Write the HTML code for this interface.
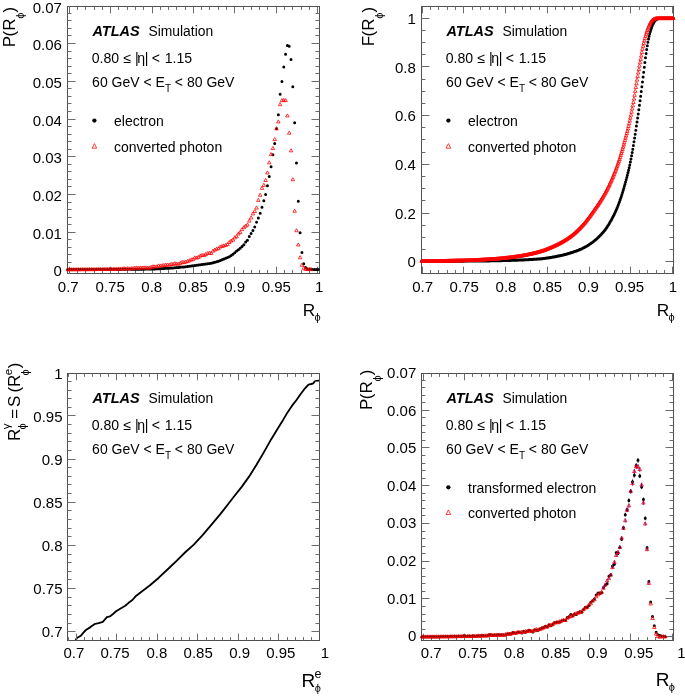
<!DOCTYPE html>
<html lang="en"><head><meta charset="utf-8"><title>ATLAS Simulation</title>
<style>html,body{margin:0;padding:0;background:#fff}svg{display:block;will-change:transform}text{white-space:pre}</style></head>
<body>
<svg width="685" height="696" viewBox="0 0 685 696" font-family='"Liberation Sans", sans-serif' fill="#000">
<rect width="685" height="696" fill="#fff"/>
<g id="p1">
<rect x="67.5" y="6.5" width="252" height="267" fill="none" stroke="#505050" stroke-width="1.0"/>
<path d="M69.5 273.5v-6.8M69.5 6.5v6.8M77.5 273.5v-3.4M77.5 6.5v3.4M85.5 273.5v-3.4M85.5 6.5v3.4M94.5 273.5v-3.4M94.5 6.5v3.4M102.5 273.5v-3.4M102.5 6.5v3.4M110.5 273.5v-6.8M110.5 6.5v6.8M118.5 273.5v-3.4M118.5 6.5v3.4M127.5 273.5v-3.4M127.5 6.5v3.4M135.5 273.5v-3.4M135.5 6.5v3.4M143.5 273.5v-3.4M143.5 6.5v3.4M152.5 273.5v-6.8M152.5 6.5v6.8M160.5 273.5v-3.4M160.5 6.5v3.4M168.5 273.5v-3.4M168.5 6.5v3.4M176.5 273.5v-3.4M176.5 6.5v3.4M185.5 273.5v-3.4M185.5 6.5v3.4M193.5 273.5v-6.8M193.5 6.5v6.8M201.5 273.5v-3.4M201.5 6.5v3.4M209.5 273.5v-3.4M209.5 6.5v3.4M218.5 273.5v-3.4M218.5 6.5v3.4M226.5 273.5v-3.4M226.5 6.5v3.4M234.5 273.5v-6.8M234.5 6.5v6.8M243.5 273.5v-3.4M243.5 6.5v3.4M251.5 273.5v-3.4M251.5 6.5v3.4M259.5 273.5v-3.4M259.5 6.5v3.4M267.5 273.5v-3.4M267.5 6.5v3.4M276.5 273.5v-6.8M276.5 6.5v6.8M284.5 273.5v-3.4M284.5 6.5v3.4M292.5 273.5v-3.4M292.5 6.5v3.4M301.5 273.5v-3.4M301.5 6.5v3.4M309.5 273.5v-3.4M309.5 6.5v3.4M317.5 273.5v-6.8M317.5 6.5v6.8" stroke="#6c6c6c" stroke-width="1.0" fill="none"/>
<path d="M67.5 13.5h4M319.5 13.5h-4M67.5 20.5h4M319.5 20.5h-4M67.5 28.5h4M319.5 28.5h-4M67.5 35.5h4M319.5 35.5h-4M67.5 43.5h8M319.5 43.5h-8M67.5 51.5h4M319.5 51.5h-4M67.5 58.5h4M319.5 58.5h-4M67.5 66.5h4M319.5 66.5h-4M67.5 73.5h4M319.5 73.5h-4M67.5 81.5h8M319.5 81.5h-8M67.5 88.5h4M319.5 88.5h-4M67.5 96.5h4M319.5 96.5h-4M67.5 103.5h4M319.5 103.5h-4M67.5 111.5h4M319.5 111.5h-4M67.5 119.5h8M319.5 119.5h-8M67.5 126.5h4M319.5 126.5h-4M67.5 134.5h4M319.5 134.5h-4M67.5 141.5h4M319.5 141.5h-4M67.5 149.5h4M319.5 149.5h-4M67.5 156.5h8M319.5 156.5h-8M67.5 164.5h4M319.5 164.5h-4M67.5 171.5h4M319.5 171.5h-4M67.5 179.5h4M319.5 179.5h-4M67.5 186.5h4M319.5 186.5h-4M67.5 194.5h8M319.5 194.5h-8M67.5 202.5h4M319.5 202.5h-4M67.5 209.5h4M319.5 209.5h-4M67.5 217.5h4M319.5 217.5h-4M67.5 224.5h4M319.5 224.5h-4M67.5 232.5h8M319.5 232.5h-8M67.5 239.5h4M319.5 239.5h-4M67.5 247.5h4M319.5 247.5h-4M67.5 254.5h4M319.5 254.5h-4M67.5 262.5h4M319.5 262.5h-4M67.5 270.5h8M319.5 270.5h-8" stroke="#6c6c6c" stroke-width="1.0" fill="none"/>
<path d="M66.28 269.5a1.5 1.5 0 1 0 3 0a1.5 1.5 0 1 0 -3 0M68.1 269.5a1.5 1.5 0 1 0 3 0a1.5 1.5 0 1 0 -3 0M69.91 269.5a1.5 1.5 0 1 0 3 0a1.5 1.5 0 1 0 -3 0M71.73 269.5a1.5 1.5 0 1 0 3 0a1.5 1.5 0 1 0 -3 0M73.54 269.5a1.5 1.5 0 1 0 3 0a1.5 1.5 0 1 0 -3 0M75.36 269.49a1.5 1.5 0 1 0 3 0a1.5 1.5 0 1 0 -3 0M77.17 269.49a1.5 1.5 0 1 0 3 0a1.5 1.5 0 1 0 -3 0M78.99 269.49a1.5 1.5 0 1 0 3 0a1.5 1.5 0 1 0 -3 0M80.8 269.48a1.5 1.5 0 1 0 3 0a1.5 1.5 0 1 0 -3 0M82.62 269.48a1.5 1.5 0 1 0 3 0a1.5 1.5 0 1 0 -3 0M84.43 269.47a1.5 1.5 0 1 0 3 0a1.5 1.5 0 1 0 -3 0M86.25 269.47a1.5 1.5 0 1 0 3 0a1.5 1.5 0 1 0 -3 0M88.06 269.46a1.5 1.5 0 1 0 3 0a1.5 1.5 0 1 0 -3 0M89.88 269.46a1.5 1.5 0 1 0 3 0a1.5 1.5 0 1 0 -3 0M91.69 269.45a1.5 1.5 0 1 0 3 0a1.5 1.5 0 1 0 -3 0M93.51 269.44a1.5 1.5 0 1 0 3 0a1.5 1.5 0 1 0 -3 0M95.32 269.44a1.5 1.5 0 1 0 3 0a1.5 1.5 0 1 0 -3 0M97.14 269.43a1.5 1.5 0 1 0 3 0a1.5 1.5 0 1 0 -3 0M98.95 269.42a1.5 1.5 0 1 0 3 0a1.5 1.5 0 1 0 -3 0M100.77 269.42a1.5 1.5 0 1 0 3 0a1.5 1.5 0 1 0 -3 0M102.58 269.41a1.5 1.5 0 1 0 3 0a1.5 1.5 0 1 0 -3 0M104.4 269.4a1.5 1.5 0 1 0 3 0a1.5 1.5 0 1 0 -3 0M106.21 269.39a1.5 1.5 0 1 0 3 0a1.5 1.5 0 1 0 -3 0M108.03 269.39a1.5 1.5 0 1 0 3 0a1.5 1.5 0 1 0 -3 0M109.84 269.38a1.5 1.5 0 1 0 3 0a1.5 1.5 0 1 0 -3 0M111.66 269.37a1.5 1.5 0 1 0 3 0a1.5 1.5 0 1 0 -3 0M113.47 269.36a1.5 1.5 0 1 0 3 0a1.5 1.5 0 1 0 -3 0M115.29 269.35a1.5 1.5 0 1 0 3 0a1.5 1.5 0 1 0 -3 0M117.1 269.35a1.5 1.5 0 1 0 3 0a1.5 1.5 0 1 0 -3 0M118.92 269.34a1.5 1.5 0 1 0 3 0a1.5 1.5 0 1 0 -3 0M120.73 269.33a1.5 1.5 0 1 0 3 0a1.5 1.5 0 1 0 -3 0M122.55 269.31a1.5 1.5 0 1 0 3 0a1.5 1.5 0 1 0 -3 0M124.36 269.3a1.5 1.5 0 1 0 3 0a1.5 1.5 0 1 0 -3 0M126.18 269.29a1.5 1.5 0 1 0 3 0a1.5 1.5 0 1 0 -3 0M127.99 269.28a1.5 1.5 0 1 0 3 0a1.5 1.5 0 1 0 -3 0M129.81 269.26a1.5 1.5 0 1 0 3 0a1.5 1.5 0 1 0 -3 0M131.62 269.25a1.5 1.5 0 1 0 3 0a1.5 1.5 0 1 0 -3 0M133.44 269.23a1.5 1.5 0 1 0 3 0a1.5 1.5 0 1 0 -3 0M135.25 269.21a1.5 1.5 0 1 0 3 0a1.5 1.5 0 1 0 -3 0M137.07 269.19a1.5 1.5 0 1 0 3 0a1.5 1.5 0 1 0 -3 0M138.88 269.17a1.5 1.5 0 1 0 3 0a1.5 1.5 0 1 0 -3 0M140.7 269.15a1.5 1.5 0 1 0 3 0a1.5 1.5 0 1 0 -3 0M142.51 269.13a1.5 1.5 0 1 0 3 0a1.5 1.5 0 1 0 -3 0M144.33 269.1a1.5 1.5 0 1 0 3 0a1.5 1.5 0 1 0 -3 0M146.14 269.08a1.5 1.5 0 1 0 3 0a1.5 1.5 0 1 0 -3 0M147.96 269.05a1.5 1.5 0 1 0 3 0a1.5 1.5 0 1 0 -3 0M149.77 269.01a1.5 1.5 0 1 0 3 0a1.5 1.5 0 1 0 -3 0M151.59 268.96a1.5 1.5 0 1 0 3 0a1.5 1.5 0 1 0 -3 0M153.4 268.9a1.5 1.5 0 1 0 3 0a1.5 1.5 0 1 0 -3 0M155.22 268.83a1.5 1.5 0 1 0 3 0a1.5 1.5 0 1 0 -3 0M157.03 268.75a1.5 1.5 0 1 0 3 0a1.5 1.5 0 1 0 -3 0M158.85 268.66a1.5 1.5 0 1 0 3 0a1.5 1.5 0 1 0 -3 0M160.66 268.57a1.5 1.5 0 1 0 3 0a1.5 1.5 0 1 0 -3 0M162.48 268.47a1.5 1.5 0 1 0 3 0a1.5 1.5 0 1 0 -3 0M164.29 268.37a1.5 1.5 0 1 0 3 0a1.5 1.5 0 1 0 -3 0M166.11 268.27a1.5 1.5 0 1 0 3 0a1.5 1.5 0 1 0 -3 0M167.92 268.15a1.5 1.5 0 1 0 3 0a1.5 1.5 0 1 0 -3 0M169.74 268.02a1.5 1.5 0 1 0 3 0a1.5 1.5 0 1 0 -3 0M171.55 267.88a1.5 1.5 0 1 0 3 0a1.5 1.5 0 1 0 -3 0M173.37 267.73a1.5 1.5 0 1 0 3 0a1.5 1.5 0 1 0 -3 0M175.18 267.57a1.5 1.5 0 1 0 3 0a1.5 1.5 0 1 0 -3 0M177 267.41a1.5 1.5 0 1 0 3 0a1.5 1.5 0 1 0 -3 0M178.81 267.24a1.5 1.5 0 1 0 3 0a1.5 1.5 0 1 0 -3 0M180.63 267.06a1.5 1.5 0 1 0 3 0a1.5 1.5 0 1 0 -3 0M182.44 266.88a1.5 1.5 0 1 0 3 0a1.5 1.5 0 1 0 -3 0M184.26 266.67a1.5 1.5 0 1 0 3 0a1.5 1.5 0 1 0 -3 0M186.07 266.46a1.5 1.5 0 1 0 3 0a1.5 1.5 0 1 0 -3 0M187.89 266.23a1.5 1.5 0 1 0 3 0a1.5 1.5 0 1 0 -3 0M189.7 266a1.5 1.5 0 1 0 3 0a1.5 1.5 0 1 0 -3 0M191.52 265.76a1.5 1.5 0 1 0 3 0a1.5 1.5 0 1 0 -3 0M193.33 265.51a1.5 1.5 0 1 0 3 0a1.5 1.5 0 1 0 -3 0M195.15 265.25a1.5 1.5 0 1 0 3 0a1.5 1.5 0 1 0 -3 0M196.96 265a1.5 1.5 0 1 0 3 0a1.5 1.5 0 1 0 -3 0M198.78 264.75a1.5 1.5 0 1 0 3 0a1.5 1.5 0 1 0 -3 0M200.59 264.5a1.5 1.5 0 1 0 3 0a1.5 1.5 0 1 0 -3 0M202.41 264.26a1.5 1.5 0 1 0 3 0a1.5 1.5 0 1 0 -3 0M204.22 264.01a1.5 1.5 0 1 0 3 0a1.5 1.5 0 1 0 -3 0M206.04 263.74a1.5 1.5 0 1 0 3 0a1.5 1.5 0 1 0 -3 0M207.85 263.45a1.5 1.5 0 1 0 3 0a1.5 1.5 0 1 0 -3 0M209.67 263.13a1.5 1.5 0 1 0 3 0a1.5 1.5 0 1 0 -3 0M211.48 262.77a1.5 1.5 0 1 0 3 0a1.5 1.5 0 1 0 -3 0M213.3 262.37a1.5 1.5 0 1 0 3 0a1.5 1.5 0 1 0 -3 0M215.11 261.86a1.5 1.5 0 1 0 3 0a1.5 1.5 0 1 0 -3 0M216.93 261.21a1.5 1.5 0 1 0 3 0a1.5 1.5 0 1 0 -3 0M218.74 260.49a1.5 1.5 0 1 0 3 0a1.5 1.5 0 1 0 -3 0M220.56 259.75a1.5 1.5 0 1 0 3 0a1.5 1.5 0 1 0 -3 0M222.37 259.03a1.5 1.5 0 1 0 3 0a1.5 1.5 0 1 0 -3 0M224.19 258.29a1.5 1.5 0 1 0 3 0a1.5 1.5 0 1 0 -3 0M226 257.51a1.5 1.5 0 1 0 3 0a1.5 1.5 0 1 0 -3 0M227.82 256.63a1.5 1.5 0 1 0 3 0a1.5 1.5 0 1 0 -3 0M229.63 255.62a1.5 1.5 0 1 0 3 0a1.5 1.5 0 1 0 -3 0M231.45 254.31a1.5 1.5 0 1 0 3 0a1.5 1.5 0 1 0 -3 0M233.26 252.73a1.5 1.5 0 1 0 3 0a1.5 1.5 0 1 0 -3 0M235.08 251.12a1.5 1.5 0 1 0 3 0a1.5 1.5 0 1 0 -3 0M236.89 249.65a1.5 1.5 0 1 0 3 0a1.5 1.5 0 1 0 -3 0M238.71 248.2a1.5 1.5 0 1 0 3 0a1.5 1.5 0 1 0 -3 0M240.52 246.62a1.5 1.5 0 1 0 3 0a1.5 1.5 0 1 0 -3 0M242.34 244.74a1.5 1.5 0 1 0 3 0a1.5 1.5 0 1 0 -3 0M244.15 242.12a1.5 1.5 0 1 0 3 0a1.5 1.5 0 1 0 -3 0M245.97 240.24a1.5 1.5 0 1 0 3 0a1.5 1.5 0 1 0 -3 0M247.78 236.49a1.5 1.5 0 1 0 3 0a1.5 1.5 0 1 0 -3 0M249.6 233.49a1.5 1.5 0 1 0 3 0a1.5 1.5 0 1 0 -3 0M251.41 230.49a1.5 1.5 0 1 0 3 0a1.5 1.5 0 1 0 -3 0M253.23 227.11a1.5 1.5 0 1 0 3 0a1.5 1.5 0 1 0 -3 0M255.04 222.24a1.5 1.5 0 1 0 3 0a1.5 1.5 0 1 0 -3 0M256.86 218.11a1.5 1.5 0 1 0 3 0a1.5 1.5 0 1 0 -3 0M258.67 213.24a1.5 1.5 0 1 0 3 0a1.5 1.5 0 1 0 -3 0M260.49 207.23a1.5 1.5 0 1 0 3 0a1.5 1.5 0 1 0 -3 0M262.3 200.86a1.5 1.5 0 1 0 3 0a1.5 1.5 0 1 0 -3 0M264.12 194.48a1.5 1.5 0 1 0 3 0a1.5 1.5 0 1 0 -3 0M265.94 185.85a1.5 1.5 0 1 0 3 0a1.5 1.5 0 1 0 -3 0M267.75 176.48a1.5 1.5 0 1 0 3 0a1.5 1.5 0 1 0 -3 0M269.56 166.72a1.5 1.5 0 1 0 3 0a1.5 1.5 0 1 0 -3 0M271.38 154.72a1.5 1.5 0 1 0 3 0a1.5 1.5 0 1 0 -3 0M273.19 143.47a1.5 1.5 0 1 0 3 0a1.5 1.5 0 1 0 -3 0M275.01 128.84a1.5 1.5 0 1 0 3 0a1.5 1.5 0 1 0 -3 0M276.82 114.77a1.5 1.5 0 1 0 3 0a1.5 1.5 0 1 0 -3 0M278.64 94.33a1.5 1.5 0 1 0 3 0a1.5 1.5 0 1 0 -3 0M280.45 81.57a1.5 1.5 0 1 0 3 0a1.5 1.5 0 1 0 -3 0M282.27 66.95a1.5 1.5 0 1 0 3 0a1.5 1.5 0 1 0 -3 0M284.08 54.19a1.5 1.5 0 1 0 3 0a1.5 1.5 0 1 0 -3 0M285.9 45.57a1.5 1.5 0 1 0 3 0a1.5 1.5 0 1 0 -3 0M287.71 46.32a1.5 1.5 0 1 0 3 0a1.5 1.5 0 1 0 -3 0M289.53 59.44a1.5 1.5 0 1 0 3 0a1.5 1.5 0 1 0 -3 0M291.34 86.83a1.5 1.5 0 1 0 3 0a1.5 1.5 0 1 0 -3 0M293.16 122.84a1.5 1.5 0 1 0 3 0a1.5 1.5 0 1 0 -3 0M294.97 162.97a1.5 1.5 0 1 0 3 0a1.5 1.5 0 1 0 -3 0M296.79 201.23a1.5 1.5 0 1 0 3 0a1.5 1.5 0 1 0 -3 0M298.6 232.74a1.5 1.5 0 1 0 3 0a1.5 1.5 0 1 0 -3 0M300.42 252.62a1.5 1.5 0 1 0 3 0a1.5 1.5 0 1 0 -3 0M302.23 263.87a1.5 1.5 0 1 0 3 0a1.5 1.5 0 1 0 -3 0M304.05 267.62a1.5 1.5 0 1 0 3 0a1.5 1.5 0 1 0 -3 0M305.86 269.12a1.5 1.5 0 1 0 3 0a1.5 1.5 0 1 0 -3 0M307.68 269.24a1.5 1.5 0 1 0 3 0a1.5 1.5 0 1 0 -3 0M309.5 269.34a1.5 1.5 0 1 0 3 0a1.5 1.5 0 1 0 -3 0M311.31 269.4a1.5 1.5 0 1 0 3 0a1.5 1.5 0 1 0 -3 0M313.12 269.45a1.5 1.5 0 1 0 3 0a1.5 1.5 0 1 0 -3 0M314.94 269.48a1.5 1.5 0 1 0 3 0a1.5 1.5 0 1 0 -3 0M316.75 269.5a1.5 1.5 0 1 0 3 0a1.5 1.5 0 1 0 -3 0" fill="#000"/>
<path d="M66.03 270.75L67.78 267.65L69.53 270.75ZM67.85 270.75L69.6 267.65L71.35 270.75ZM69.66 270.75L71.41 267.65L73.16 270.75ZM71.48 270.74L73.23 267.64L74.98 270.74ZM73.29 270.75L75.04 267.65L76.79 270.75ZM75.11 270.73L76.86 267.63L78.61 270.73ZM76.92 270.72L78.67 267.62L80.42 270.72ZM78.74 270.76L80.49 267.66L82.24 270.76ZM80.55 270.67L82.3 267.57L84.05 270.67ZM82.37 270.66L84.12 267.56L85.87 270.66ZM84.18 270.69L85.93 267.59L87.68 270.69ZM86 270.66L87.75 267.56L89.5 270.66ZM87.81 270.61L89.56 267.51L91.31 270.61ZM89.63 270.63L91.38 267.53L93.13 270.63ZM91.44 270.61L93.19 267.51L94.94 270.61ZM93.26 270.66L95.01 267.56L96.76 270.66ZM95.07 270.52L96.82 267.42L98.57 270.52ZM96.89 270.52L98.64 267.42L100.39 270.52ZM98.7 270.49L100.45 267.39L102.2 270.49ZM100.52 270.59L102.27 267.49L104.02 270.59ZM102.33 270.34L104.08 267.24L105.83 270.34ZM104.15 270.42L105.9 267.32L107.65 270.42ZM105.96 270.43L107.71 267.33L109.46 270.43ZM107.78 270.21L109.53 267.11L111.28 270.21ZM109.59 270.34L111.34 267.24L113.09 270.34ZM111.41 270.43L113.16 267.33L114.91 270.43ZM113.22 270.28L114.97 267.18L116.72 270.28ZM115.04 270.41L116.79 267.31L118.54 270.41ZM116.85 269.99L118.6 266.89L120.35 269.99ZM118.67 270.08L120.42 266.98L122.17 270.08ZM120.48 270.04L122.23 266.94L123.98 270.04ZM122.3 269.73L124.05 266.63L125.8 269.73ZM124.11 270L125.86 266.9L127.61 270ZM125.93 269.63L127.68 266.53L129.43 269.63ZM127.74 269.92L129.49 266.82L131.24 269.92ZM129.56 269.65L131.31 266.55L133.06 269.65ZM131.37 269.66L133.12 266.56L134.87 269.66ZM133.19 269.18L134.94 266.08L136.69 269.18ZM135 269.05L136.75 265.95L138.5 269.05ZM136.82 269.31L138.57 266.21L140.32 269.31ZM138.63 269.03L140.38 265.93L142.13 269.03ZM140.45 269.12L142.2 266.02L143.95 269.12ZM142.26 268.9L144.01 265.8L145.76 268.9ZM144.08 269.03L145.83 265.93L147.58 269.03ZM145.89 269.1L147.64 266L149.39 269.1ZM147.71 269L149.46 265.9L151.21 269ZM149.52 268.41L151.27 265.31L153.02 268.41ZM151.34 267.8L153.09 264.7L154.84 267.8ZM153.15 267.96L154.9 264.86L156.65 267.96ZM154.97 267.86L156.72 264.76L158.47 267.86ZM156.78 266.97L158.53 263.87L160.28 266.97ZM158.6 267.06L160.35 263.96L162.1 267.06ZM160.41 266.79L162.16 263.69L163.91 266.79ZM162.23 266.45L163.98 263.35L165.73 266.45ZM164.04 266.29L165.79 263.19L167.54 266.29ZM165.86 266.1L167.61 263L169.36 266.1ZM167.67 266.22L169.42 263.12L171.17 266.22ZM169.49 265.42L171.24 262.32L172.99 265.42ZM171.3 265.4L173.05 262.3L174.8 265.4ZM173.12 264.78L174.87 261.68L176.62 264.78ZM174.93 265.04L176.68 261.94L178.43 265.04ZM176.75 265.29L178.5 262.19L180.25 265.29ZM178.56 264.39L180.31 261.29L182.06 264.39ZM180.38 263.4L182.13 260.3L183.88 263.4ZM182.19 263.63L183.94 260.53L185.69 263.63ZM184.01 263.15L185.76 260.05L187.51 263.15ZM185.82 262.54L187.57 259.44L189.32 262.54ZM187.64 261.81L189.39 258.71L191.14 261.81ZM189.45 260.89L191.2 257.79L192.95 260.89ZM191.27 260.68L193.02 257.58L194.77 260.68ZM193.08 258.9L194.83 255.8L196.58 258.9ZM194.9 259.12L196.65 256.02L198.4 259.12ZM196.71 258.32L198.46 255.22L200.21 258.32ZM198.53 257.05L200.28 253.95L202.03 257.05ZM200.34 256.36L202.09 253.26L203.84 256.36ZM202.16 256.56L203.91 253.46L205.66 256.56ZM203.97 255.57L205.72 252.47L207.47 255.57ZM205.79 254.61L207.54 251.51L209.29 254.61ZM207.6 254.33L209.35 251.23L211.1 254.33ZM209.42 254.41L211.17 251.31L212.92 254.41ZM211.23 252.17L212.98 249.07L214.73 252.17ZM213.05 251.09L214.8 247.99L216.55 251.09ZM214.86 250.22L216.61 247.12L218.36 250.22ZM216.68 249.71L218.43 246.61L220.18 249.71ZM218.49 248.04L220.24 244.94L221.99 248.04ZM220.31 247.51L222.06 244.41L223.81 247.51ZM222.12 246.99L223.87 243.89L225.62 246.99ZM223.94 246.44L225.69 243.34L227.44 246.44ZM225.75 245.54L227.5 242.44L229.25 245.54ZM227.57 243.56L229.32 240.46L231.07 243.56ZM229.38 242.05L231.13 238.95L232.88 242.05ZM231.2 241.15L232.95 238.05L234.7 241.15ZM233.01 238.87L234.76 235.77L236.51 238.87ZM234.83 237.67L236.58 234.57L238.33 237.67ZM236.64 234.97L238.39 231.87L240.14 234.97ZM238.46 233.54L240.21 230.44L241.96 233.54ZM240.27 230.65L242.02 227.55L243.77 230.65ZM242.09 228.66L243.84 225.56L245.59 228.66ZM243.9 227.16L245.65 224.06L247.4 227.16ZM245.72 226.04L247.47 222.94L249.22 226.04ZM247.53 222.14L249.28 219.04L251.03 222.14ZM249.35 218.95L251.1 215.85L252.85 218.95ZM251.16 214.94L252.91 211.84L254.66 214.94ZM252.98 212.53L254.73 209.43L256.48 212.53ZM254.79 209.05L256.54 205.95L258.29 209.05ZM256.61 201.43L258.36 198.33L260.11 201.43ZM258.42 196.26L260.17 193.16L261.92 196.26ZM260.24 189.35L261.99 186.25L263.74 189.35ZM262.05 186.35L263.8 183.25L265.55 186.35ZM263.87 181.48L265.62 178.38L267.37 181.48ZM265.69 173.97L267.44 170.87L269.19 173.97ZM267.5 163.85L269.25 160.75L271 163.85ZM269.31 155.59L271.06 152.49L272.81 155.59ZM271.13 149.59L272.88 146.49L274.63 149.59ZM272.94 140.59L274.69 137.49L276.44 140.59ZM274.76 129.71L276.51 126.61L278.26 129.71ZM276.57 122.96L278.32 119.86L280.07 122.96ZM278.39 105.71L280.14 102.61L281.89 105.71ZM280.2 101.58L281.95 98.48L283.7 101.58ZM282.02 101.58L283.77 98.48L285.52 101.58ZM283.83 101.58L285.58 98.48L287.33 101.58ZM285.65 116.96L287.4 113.86L289.15 116.96ZM287.46 134.21L289.21 131.11L290.96 134.21ZM289.28 151.84L291.03 148.74L292.78 151.84ZM291.09 180.73L292.84 177.63L294.59 180.73ZM292.91 212.23L294.66 209.13L296.41 212.23ZM294.72 231.74L296.47 228.64L298.22 231.74ZM296.54 245.99L298.29 242.89L300.04 245.99ZM298.35 258.75L300.1 255.65L301.85 258.75ZM300.17 266.25L301.92 263.15L303.67 266.25ZM301.98 269.25L303.73 266.15L305.48 269.25ZM303.8 270.37L305.55 267.27L307.3 270.37ZM305.61 270.48L307.36 267.38L309.11 270.48ZM307.43 270.57L309.18 267.47L310.93 270.57ZM309.25 270.63L311 267.53L312.75 270.63Z" fill="none" stroke="#f00" stroke-width="0.78" stroke-linejoin="miter"/>
<text x="68.3" y="292.3" font-size="15" text-anchor="middle">0.7</text>
<text x="110.2" y="292.3" font-size="15" text-anchor="middle">0.75</text>
<text x="151.8" y="292.3" font-size="15" text-anchor="middle">0.8</text>
<text x="193.2" y="292.3" font-size="15" text-anchor="middle">0.85</text>
<text x="234.6" y="292.3" font-size="15" text-anchor="middle">0.9</text>
<text x="276.3" y="292.3" font-size="15" text-anchor="middle">0.95</text>
<text x="319.2" y="292.3" font-size="15" text-anchor="middle">1</text>
<text x="61.9" y="276.2" font-size="15" text-anchor="end">0</text>
<text x="61.9" y="238.54" font-size="15" text-anchor="end">0.01</text>
<text x="61.9" y="200.88" font-size="15" text-anchor="end">0.02</text>
<text x="61.9" y="163.22" font-size="15" text-anchor="end">0.03</text>
<text x="61.9" y="125.56" font-size="15" text-anchor="end">0.04</text>
<text x="61.9" y="87.9" font-size="15" text-anchor="end">0.05</text>
<text x="61.9" y="50.24" font-size="15" text-anchor="end">0.06</text>
<text x="61.9" y="12.58" font-size="15" text-anchor="end">0.07</text>
<text y="36.4"><tspan x="92.4" font-size="14.5" font-weight="bold" font-style="italic">ATLAS</tspan><tspan x="148.5" font-size="13.85">Simulation</tspan></text>
<text y="63.4" font-size="14.1"><tspan x="91.7">0.80</tspan><tspan x="123.6">≤</tspan><tspan x="135">|</tspan><tspan x="137.35">η</tspan><tspan x="144.8">|</tspan><tspan x="151.8">&lt;</tspan><tspan x="164.7">1.15</tspan></text>
<text x="92.1" y="87.3" font-size="14">60 GeV &lt; E<tspan font-size="10" dy="4.7">T</tspan><tspan dy="-4.7"> &lt; 80 GeV</tspan></text>
<circle cx="94.4" cy="120.6" r="2.15" fill="#000"/>
<text x="114" y="125.9" font-size="14">electron</text>
<path d="M92.1 148.2L94.4 143.6L96.7 148.2Z" fill="none" stroke="#f00" stroke-width="0.75"/>
<text x="114" y="151.5" font-size="14">converted photon</text>
<text x="302.7" y="315.8" font-size="17.3">R<tspan font-size="11" dy="5.3" dx="-0.8">ϕ</tspan></text>
<text transform="translate(15.1 12.4) rotate(-90)" font-size="17">)</text>
<text transform="translate(23.94 18.8) rotate(-90)" font-size="11">ϕ</text>
<text transform="translate(15.1 30.7) rotate(-90)" font-size="17">R</text>
<text transform="translate(15.1 36.4) rotate(-90)" font-size="17">(</text>
<text transform="translate(15.1 47.2) rotate(-90)" font-size="17">P</text>
</g>
<g id="p2">
<rect x="421.5" y="6.5" width="252" height="267" fill="none" stroke="#505050" stroke-width="1.0"/>
<path d="M422.5 273.5v-6.8M422.5 6.5v6.8M430.5 273.5v-3.4M430.5 6.5v3.4M438.5 273.5v-3.4M438.5 6.5v3.4M447.5 273.5v-3.4M447.5 6.5v3.4M455.5 273.5v-3.4M455.5 6.5v3.4M463.5 273.5v-6.8M463.5 6.5v6.8M472.5 273.5v-3.4M472.5 6.5v3.4M480.5 273.5v-3.4M480.5 6.5v3.4M489.5 273.5v-3.4M489.5 6.5v3.4M497.5 273.5v-3.4M497.5 6.5v3.4M505.5 273.5v-6.8M505.5 6.5v6.8M514.5 273.5v-3.4M514.5 6.5v3.4M522.5 273.5v-3.4M522.5 6.5v3.4M530.5 273.5v-3.4M530.5 6.5v3.4M539.5 273.5v-3.4M539.5 6.5v3.4M547.5 273.5v-6.8M547.5 6.5v6.8M555.5 273.5v-3.4M555.5 6.5v3.4M564.5 273.5v-3.4M564.5 6.5v3.4M572.5 273.5v-3.4M572.5 6.5v3.4M580.5 273.5v-3.4M580.5 6.5v3.4M589.5 273.5v-6.8M589.5 6.5v6.8M597.5 273.5v-3.4M597.5 6.5v3.4M605.5 273.5v-3.4M605.5 6.5v3.4M614.5 273.5v-3.4M614.5 6.5v3.4M622.5 273.5v-3.4M622.5 6.5v3.4M630.5 273.5v-6.8M630.5 6.5v6.8M639.5 273.5v-3.4M639.5 6.5v3.4M647.5 273.5v-3.4M647.5 6.5v3.4M656.5 273.5v-3.4M656.5 6.5v3.4M664.5 273.5v-3.4M664.5 6.5v3.4M672.5 273.5v-6.8M672.5 6.5v6.8" stroke="#6c6c6c" stroke-width="1.0" fill="none"/>
<path d="M421.5 18.5h8M673.5 18.5h-8M421.5 30.5h4M673.5 30.5h-4M421.5 42.5h4M673.5 42.5h-4M421.5 54.5h4M673.5 54.5h-4M421.5 66.5h8M673.5 66.5h-8M421.5 79.5h4M673.5 79.5h-4M421.5 91.5h4M673.5 91.5h-4M421.5 103.5h4M673.5 103.5h-4M421.5 115.5h8M673.5 115.5h-8M421.5 127.5h4M673.5 127.5h-4M421.5 139.5h4M673.5 139.5h-4M421.5 152.5h4M673.5 152.5h-4M421.5 164.5h8M673.5 164.5h-8M421.5 176.5h4M673.5 176.5h-4M421.5 188.5h4M673.5 188.5h-4M421.5 200.5h4M673.5 200.5h-4M421.5 213.5h8M673.5 213.5h-8M421.5 225.5h4M673.5 225.5h-4M421.5 237.5h4M673.5 237.5h-4M421.5 249.5h4M673.5 249.5h-4M421.5 261.5h8M673.5 261.5h-8" stroke="#6c6c6c" stroke-width="1.0" fill="none"/>
<path d="M420.15 261.3a1.5 1.5 0 1 0 3 0a1.5 1.5 0 1 0 -3 0M420.75 261.3a1.5 1.5 0 1 0 3 0a1.5 1.5 0 1 0 -3 0M421.36 261.3a1.5 1.5 0 1 0 3 0a1.5 1.5 0 1 0 -3 0M421.96 261.3a1.5 1.5 0 1 0 3 0a1.5 1.5 0 1 0 -3 0M422.57 261.3a1.5 1.5 0 1 0 3 0a1.5 1.5 0 1 0 -3 0M423.17 261.3a1.5 1.5 0 1 0 3 0a1.5 1.5 0 1 0 -3 0M423.78 261.3a1.5 1.5 0 1 0 3 0a1.5 1.5 0 1 0 -3 0M424.38 261.3a1.5 1.5 0 1 0 3 0a1.5 1.5 0 1 0 -3 0M424.99 261.3a1.5 1.5 0 1 0 3 0a1.5 1.5 0 1 0 -3 0M425.59 261.3a1.5 1.5 0 1 0 3 0a1.5 1.5 0 1 0 -3 0M426.2 261.3a1.5 1.5 0 1 0 3 0a1.5 1.5 0 1 0 -3 0M426.8 261.3a1.5 1.5 0 1 0 3 0a1.5 1.5 0 1 0 -3 0M427.41 261.29a1.5 1.5 0 1 0 3 0a1.5 1.5 0 1 0 -3 0M428.01 261.29a1.5 1.5 0 1 0 3 0a1.5 1.5 0 1 0 -3 0M428.62 261.29a1.5 1.5 0 1 0 3 0a1.5 1.5 0 1 0 -3 0M429.22 261.29a1.5 1.5 0 1 0 3 0a1.5 1.5 0 1 0 -3 0M429.83 261.29a1.5 1.5 0 1 0 3 0a1.5 1.5 0 1 0 -3 0M430.44 261.29a1.5 1.5 0 1 0 3 0a1.5 1.5 0 1 0 -3 0M431.04 261.29a1.5 1.5 0 1 0 3 0a1.5 1.5 0 1 0 -3 0M431.64 261.29a1.5 1.5 0 1 0 3 0a1.5 1.5 0 1 0 -3 0M432.25 261.28a1.5 1.5 0 1 0 3 0a1.5 1.5 0 1 0 -3 0M432.85 261.28a1.5 1.5 0 1 0 3 0a1.5 1.5 0 1 0 -3 0M433.46 261.28a1.5 1.5 0 1 0 3 0a1.5 1.5 0 1 0 -3 0M434.06 261.28a1.5 1.5 0 1 0 3 0a1.5 1.5 0 1 0 -3 0M434.67 261.28a1.5 1.5 0 1 0 3 0a1.5 1.5 0 1 0 -3 0M435.27 261.28a1.5 1.5 0 1 0 3 0a1.5 1.5 0 1 0 -3 0M435.88 261.27a1.5 1.5 0 1 0 3 0a1.5 1.5 0 1 0 -3 0M436.48 261.27a1.5 1.5 0 1 0 3 0a1.5 1.5 0 1 0 -3 0M437.09 261.27a1.5 1.5 0 1 0 3 0a1.5 1.5 0 1 0 -3 0M437.69 261.27a1.5 1.5 0 1 0 3 0a1.5 1.5 0 1 0 -3 0M438.3 261.27a1.5 1.5 0 1 0 3 0a1.5 1.5 0 1 0 -3 0M438.9 261.26a1.5 1.5 0 1 0 3 0a1.5 1.5 0 1 0 -3 0M439.51 261.26a1.5 1.5 0 1 0 3 0a1.5 1.5 0 1 0 -3 0M440.11 261.26a1.5 1.5 0 1 0 3 0a1.5 1.5 0 1 0 -3 0M440.72 261.26a1.5 1.5 0 1 0 3 0a1.5 1.5 0 1 0 -3 0M441.32 261.25a1.5 1.5 0 1 0 3 0a1.5 1.5 0 1 0 -3 0M441.93 261.25a1.5 1.5 0 1 0 3 0a1.5 1.5 0 1 0 -3 0M442.53 261.25a1.5 1.5 0 1 0 3 0a1.5 1.5 0 1 0 -3 0M443.14 261.25a1.5 1.5 0 1 0 3 0a1.5 1.5 0 1 0 -3 0M443.75 261.24a1.5 1.5 0 1 0 3 0a1.5 1.5 0 1 0 -3 0M444.35 261.24a1.5 1.5 0 1 0 3 0a1.5 1.5 0 1 0 -3 0M444.95 261.24a1.5 1.5 0 1 0 3 0a1.5 1.5 0 1 0 -3 0M445.56 261.23a1.5 1.5 0 1 0 3 0a1.5 1.5 0 1 0 -3 0M446.16 261.23a1.5 1.5 0 1 0 3 0a1.5 1.5 0 1 0 -3 0M446.77 261.23a1.5 1.5 0 1 0 3 0a1.5 1.5 0 1 0 -3 0M447.38 261.22a1.5 1.5 0 1 0 3 0a1.5 1.5 0 1 0 -3 0M447.98 261.22a1.5 1.5 0 1 0 3 0a1.5 1.5 0 1 0 -3 0M448.58 261.22a1.5 1.5 0 1 0 3 0a1.5 1.5 0 1 0 -3 0M449.19 261.22a1.5 1.5 0 1 0 3 0a1.5 1.5 0 1 0 -3 0M449.79 261.21a1.5 1.5 0 1 0 3 0a1.5 1.5 0 1 0 -3 0M450.4 261.21a1.5 1.5 0 1 0 3 0a1.5 1.5 0 1 0 -3 0M451 261.2a1.5 1.5 0 1 0 3 0a1.5 1.5 0 1 0 -3 0M451.61 261.2a1.5 1.5 0 1 0 3 0a1.5 1.5 0 1 0 -3 0M452.21 261.2a1.5 1.5 0 1 0 3 0a1.5 1.5 0 1 0 -3 0M452.82 261.19a1.5 1.5 0 1 0 3 0a1.5 1.5 0 1 0 -3 0M453.42 261.19a1.5 1.5 0 1 0 3 0a1.5 1.5 0 1 0 -3 0M454.03 261.19a1.5 1.5 0 1 0 3 0a1.5 1.5 0 1 0 -3 0M454.63 261.18a1.5 1.5 0 1 0 3 0a1.5 1.5 0 1 0 -3 0M455.24 261.18a1.5 1.5 0 1 0 3 0a1.5 1.5 0 1 0 -3 0M455.84 261.18a1.5 1.5 0 1 0 3 0a1.5 1.5 0 1 0 -3 0M456.45 261.17a1.5 1.5 0 1 0 3 0a1.5 1.5 0 1 0 -3 0M457.05 261.17a1.5 1.5 0 1 0 3 0a1.5 1.5 0 1 0 -3 0M457.66 261.16a1.5 1.5 0 1 0 3 0a1.5 1.5 0 1 0 -3 0M458.26 261.16a1.5 1.5 0 1 0 3 0a1.5 1.5 0 1 0 -3 0M458.87 261.15a1.5 1.5 0 1 0 3 0a1.5 1.5 0 1 0 -3 0M459.47 261.15a1.5 1.5 0 1 0 3 0a1.5 1.5 0 1 0 -3 0M460.08 261.15a1.5 1.5 0 1 0 3 0a1.5 1.5 0 1 0 -3 0M460.68 261.14a1.5 1.5 0 1 0 3 0a1.5 1.5 0 1 0 -3 0M461.29 261.14a1.5 1.5 0 1 0 3 0a1.5 1.5 0 1 0 -3 0M461.89 261.13a1.5 1.5 0 1 0 3 0a1.5 1.5 0 1 0 -3 0M462.5 261.13a1.5 1.5 0 1 0 3 0a1.5 1.5 0 1 0 -3 0M463.1 261.12a1.5 1.5 0 1 0 3 0a1.5 1.5 0 1 0 -3 0M463.71 261.12a1.5 1.5 0 1 0 3 0a1.5 1.5 0 1 0 -3 0M464.31 261.12a1.5 1.5 0 1 0 3 0a1.5 1.5 0 1 0 -3 0M464.92 261.11a1.5 1.5 0 1 0 3 0a1.5 1.5 0 1 0 -3 0M465.52 261.11a1.5 1.5 0 1 0 3 0a1.5 1.5 0 1 0 -3 0M466.13 261.1a1.5 1.5 0 1 0 3 0a1.5 1.5 0 1 0 -3 0M466.73 261.1a1.5 1.5 0 1 0 3 0a1.5 1.5 0 1 0 -3 0M467.34 261.09a1.5 1.5 0 1 0 3 0a1.5 1.5 0 1 0 -3 0M467.94 261.09a1.5 1.5 0 1 0 3 0a1.5 1.5 0 1 0 -3 0M468.55 261.08a1.5 1.5 0 1 0 3 0a1.5 1.5 0 1 0 -3 0M469.15 261.08a1.5 1.5 0 1 0 3 0a1.5 1.5 0 1 0 -3 0M469.76 261.07a1.5 1.5 0 1 0 3 0a1.5 1.5 0 1 0 -3 0M470.36 261.07a1.5 1.5 0 1 0 3 0a1.5 1.5 0 1 0 -3 0M470.97 261.06a1.5 1.5 0 1 0 3 0a1.5 1.5 0 1 0 -3 0M471.57 261.06a1.5 1.5 0 1 0 3 0a1.5 1.5 0 1 0 -3 0M472.18 261.05a1.5 1.5 0 1 0 3 0a1.5 1.5 0 1 0 -3 0M472.78 261.05a1.5 1.5 0 1 0 3 0a1.5 1.5 0 1 0 -3 0M473.39 261.04a1.5 1.5 0 1 0 3 0a1.5 1.5 0 1 0 -3 0M474 261.04a1.5 1.5 0 1 0 3 0a1.5 1.5 0 1 0 -3 0M474.6 261.03a1.5 1.5 0 1 0 3 0a1.5 1.5 0 1 0 -3 0M475.2 261.03a1.5 1.5 0 1 0 3 0a1.5 1.5 0 1 0 -3 0M475.81 261.02a1.5 1.5 0 1 0 3 0a1.5 1.5 0 1 0 -3 0M476.41 261.02a1.5 1.5 0 1 0 3 0a1.5 1.5 0 1 0 -3 0M477.02 261.01a1.5 1.5 0 1 0 3 0a1.5 1.5 0 1 0 -3 0M477.62 261.01a1.5 1.5 0 1 0 3 0a1.5 1.5 0 1 0 -3 0M478.23 261a1.5 1.5 0 1 0 3 0a1.5 1.5 0 1 0 -3 0M478.83 261a1.5 1.5 0 1 0 3 0a1.5 1.5 0 1 0 -3 0M479.44 260.99a1.5 1.5 0 1 0 3 0a1.5 1.5 0 1 0 -3 0M480.04 260.99a1.5 1.5 0 1 0 3 0a1.5 1.5 0 1 0 -3 0M480.65 260.98a1.5 1.5 0 1 0 3 0a1.5 1.5 0 1 0 -3 0M481.25 260.97a1.5 1.5 0 1 0 3 0a1.5 1.5 0 1 0 -3 0M481.86 260.97a1.5 1.5 0 1 0 3 0a1.5 1.5 0 1 0 -3 0M482.46 260.96a1.5 1.5 0 1 0 3 0a1.5 1.5 0 1 0 -3 0M483.07 260.95a1.5 1.5 0 1 0 3 0a1.5 1.5 0 1 0 -3 0M483.67 260.94a1.5 1.5 0 1 0 3 0a1.5 1.5 0 1 0 -3 0M484.28 260.93a1.5 1.5 0 1 0 3 0a1.5 1.5 0 1 0 -3 0M484.88 260.93a1.5 1.5 0 1 0 3 0a1.5 1.5 0 1 0 -3 0M485.49 260.92a1.5 1.5 0 1 0 3 0a1.5 1.5 0 1 0 -3 0M486.09 260.91a1.5 1.5 0 1 0 3 0a1.5 1.5 0 1 0 -3 0M486.7 260.9a1.5 1.5 0 1 0 3 0a1.5 1.5 0 1 0 -3 0M487.3 260.89a1.5 1.5 0 1 0 3 0a1.5 1.5 0 1 0 -3 0M487.91 260.88a1.5 1.5 0 1 0 3 0a1.5 1.5 0 1 0 -3 0M488.51 260.87a1.5 1.5 0 1 0 3 0a1.5 1.5 0 1 0 -3 0M489.12 260.86a1.5 1.5 0 1 0 3 0a1.5 1.5 0 1 0 -3 0M489.72 260.85a1.5 1.5 0 1 0 3 0a1.5 1.5 0 1 0 -3 0M490.33 260.84a1.5 1.5 0 1 0 3 0a1.5 1.5 0 1 0 -3 0M490.93 260.83a1.5 1.5 0 1 0 3 0a1.5 1.5 0 1 0 -3 0M491.54 260.81a1.5 1.5 0 1 0 3 0a1.5 1.5 0 1 0 -3 0M492.14 260.8a1.5 1.5 0 1 0 3 0a1.5 1.5 0 1 0 -3 0M492.75 260.79a1.5 1.5 0 1 0 3 0a1.5 1.5 0 1 0 -3 0M493.35 260.78a1.5 1.5 0 1 0 3 0a1.5 1.5 0 1 0 -3 0M493.96 260.76a1.5 1.5 0 1 0 3 0a1.5 1.5 0 1 0 -3 0M494.56 260.75a1.5 1.5 0 1 0 3 0a1.5 1.5 0 1 0 -3 0M495.17 260.74a1.5 1.5 0 1 0 3 0a1.5 1.5 0 1 0 -3 0M495.77 260.73a1.5 1.5 0 1 0 3 0a1.5 1.5 0 1 0 -3 0M496.38 260.71a1.5 1.5 0 1 0 3 0a1.5 1.5 0 1 0 -3 0M496.98 260.7a1.5 1.5 0 1 0 3 0a1.5 1.5 0 1 0 -3 0M497.59 260.68a1.5 1.5 0 1 0 3 0a1.5 1.5 0 1 0 -3 0M498.19 260.67a1.5 1.5 0 1 0 3 0a1.5 1.5 0 1 0 -3 0M498.8 260.66a1.5 1.5 0 1 0 3 0a1.5 1.5 0 1 0 -3 0M499.4 260.64a1.5 1.5 0 1 0 3 0a1.5 1.5 0 1 0 -3 0M500.01 260.63a1.5 1.5 0 1 0 3 0a1.5 1.5 0 1 0 -3 0M500.62 260.61a1.5 1.5 0 1 0 3 0a1.5 1.5 0 1 0 -3 0M501.22 260.6a1.5 1.5 0 1 0 3 0a1.5 1.5 0 1 0 -3 0M501.82 260.58a1.5 1.5 0 1 0 3 0a1.5 1.5 0 1 0 -3 0M502.43 260.57a1.5 1.5 0 1 0 3 0a1.5 1.5 0 1 0 -3 0M503.03 260.55a1.5 1.5 0 1 0 3 0a1.5 1.5 0 1 0 -3 0M503.64 260.53a1.5 1.5 0 1 0 3 0a1.5 1.5 0 1 0 -3 0M504.25 260.52a1.5 1.5 0 1 0 3 0a1.5 1.5 0 1 0 -3 0M504.85 260.5a1.5 1.5 0 1 0 3 0a1.5 1.5 0 1 0 -3 0M505.45 260.49a1.5 1.5 0 1 0 3 0a1.5 1.5 0 1 0 -3 0M506.06 260.47a1.5 1.5 0 1 0 3 0a1.5 1.5 0 1 0 -3 0M506.66 260.45a1.5 1.5 0 1 0 3 0a1.5 1.5 0 1 0 -3 0M507.27 260.43a1.5 1.5 0 1 0 3 0a1.5 1.5 0 1 0 -3 0M507.88 260.42a1.5 1.5 0 1 0 3 0a1.5 1.5 0 1 0 -3 0M508.48 260.4a1.5 1.5 0 1 0 3 0a1.5 1.5 0 1 0 -3 0M509.08 260.38a1.5 1.5 0 1 0 3 0a1.5 1.5 0 1 0 -3 0M509.69 260.37a1.5 1.5 0 1 0 3 0a1.5 1.5 0 1 0 -3 0M510.29 260.35a1.5 1.5 0 1 0 3 0a1.5 1.5 0 1 0 -3 0M510.9 260.33a1.5 1.5 0 1 0 3 0a1.5 1.5 0 1 0 -3 0M511.5 260.31a1.5 1.5 0 1 0 3 0a1.5 1.5 0 1 0 -3 0M512.11 260.29a1.5 1.5 0 1 0 3 0a1.5 1.5 0 1 0 -3 0M512.71 260.27a1.5 1.5 0 1 0 3 0a1.5 1.5 0 1 0 -3 0M513.32 260.25a1.5 1.5 0 1 0 3 0a1.5 1.5 0 1 0 -3 0M513.92 260.23a1.5 1.5 0 1 0 3 0a1.5 1.5 0 1 0 -3 0M514.53 260.21a1.5 1.5 0 1 0 3 0a1.5 1.5 0 1 0 -3 0M515.13 260.19a1.5 1.5 0 1 0 3 0a1.5 1.5 0 1 0 -3 0M515.74 260.17a1.5 1.5 0 1 0 3 0a1.5 1.5 0 1 0 -3 0M516.35 260.14a1.5 1.5 0 1 0 3 0a1.5 1.5 0 1 0 -3 0M516.95 260.12a1.5 1.5 0 1 0 3 0a1.5 1.5 0 1 0 -3 0M517.55 260.1a1.5 1.5 0 1 0 3 0a1.5 1.5 0 1 0 -3 0M518.16 260.07a1.5 1.5 0 1 0 3 0a1.5 1.5 0 1 0 -3 0M518.76 260.05a1.5 1.5 0 1 0 3 0a1.5 1.5 0 1 0 -3 0M519.37 260.02a1.5 1.5 0 1 0 3 0a1.5 1.5 0 1 0 -3 0M519.98 260a1.5 1.5 0 1 0 3 0a1.5 1.5 0 1 0 -3 0M520.58 259.97a1.5 1.5 0 1 0 3 0a1.5 1.5 0 1 0 -3 0M521.18 259.95a1.5 1.5 0 1 0 3 0a1.5 1.5 0 1 0 -3 0M521.79 259.92a1.5 1.5 0 1 0 3 0a1.5 1.5 0 1 0 -3 0M522.39 259.89a1.5 1.5 0 1 0 3 0a1.5 1.5 0 1 0 -3 0M523 259.86a1.5 1.5 0 1 0 3 0a1.5 1.5 0 1 0 -3 0M523.61 259.83a1.5 1.5 0 1 0 3 0a1.5 1.5 0 1 0 -3 0M524.21 259.8a1.5 1.5 0 1 0 3 0a1.5 1.5 0 1 0 -3 0M524.81 259.77a1.5 1.5 0 1 0 3 0a1.5 1.5 0 1 0 -3 0M525.42 259.74a1.5 1.5 0 1 0 3 0a1.5 1.5 0 1 0 -3 0M526.02 259.71a1.5 1.5 0 1 0 3 0a1.5 1.5 0 1 0 -3 0M526.63 259.68a1.5 1.5 0 1 0 3 0a1.5 1.5 0 1 0 -3 0M527.24 259.65a1.5 1.5 0 1 0 3 0a1.5 1.5 0 1 0 -3 0M527.84 259.61a1.5 1.5 0 1 0 3 0a1.5 1.5 0 1 0 -3 0M528.44 259.58a1.5 1.5 0 1 0 3 0a1.5 1.5 0 1 0 -3 0M529.05 259.54a1.5 1.5 0 1 0 3 0a1.5 1.5 0 1 0 -3 0M529.65 259.51a1.5 1.5 0 1 0 3 0a1.5 1.5 0 1 0 -3 0M530.26 259.47a1.5 1.5 0 1 0 3 0a1.5 1.5 0 1 0 -3 0M530.87 259.44a1.5 1.5 0 1 0 3 0a1.5 1.5 0 1 0 -3 0M531.47 259.4a1.5 1.5 0 1 0 3 0a1.5 1.5 0 1 0 -3 0M532.07 259.36a1.5 1.5 0 1 0 3 0a1.5 1.5 0 1 0 -3 0M532.68 259.32a1.5 1.5 0 1 0 3 0a1.5 1.5 0 1 0 -3 0M533.28 259.28a1.5 1.5 0 1 0 3 0a1.5 1.5 0 1 0 -3 0M533.89 259.24a1.5 1.5 0 1 0 3 0a1.5 1.5 0 1 0 -3 0M534.5 259.2a1.5 1.5 0 1 0 3 0a1.5 1.5 0 1 0 -3 0M535.1 259.15a1.5 1.5 0 1 0 3 0a1.5 1.5 0 1 0 -3 0M535.7 259.11a1.5 1.5 0 1 0 3 0a1.5 1.5 0 1 0 -3 0M536.31 259.07a1.5 1.5 0 1 0 3 0a1.5 1.5 0 1 0 -3 0M536.91 259.02a1.5 1.5 0 1 0 3 0a1.5 1.5 0 1 0 -3 0M537.52 258.98a1.5 1.5 0 1 0 3 0a1.5 1.5 0 1 0 -3 0M538.12 258.93a1.5 1.5 0 1 0 3 0a1.5 1.5 0 1 0 -3 0M538.73 258.88a1.5 1.5 0 1 0 3 0a1.5 1.5 0 1 0 -3 0M539.34 258.83a1.5 1.5 0 1 0 3 0a1.5 1.5 0 1 0 -3 0M539.94 258.78a1.5 1.5 0 1 0 3 0a1.5 1.5 0 1 0 -3 0M540.54 258.72a1.5 1.5 0 1 0 3 0a1.5 1.5 0 1 0 -3 0M541.15 258.65a1.5 1.5 0 1 0 3 0a1.5 1.5 0 1 0 -3 0M541.75 258.59a1.5 1.5 0 1 0 3 0a1.5 1.5 0 1 0 -3 0M542.36 258.52a1.5 1.5 0 1 0 3 0a1.5 1.5 0 1 0 -3 0M542.96 258.44a1.5 1.5 0 1 0 3 0a1.5 1.5 0 1 0 -3 0M543.57 258.37a1.5 1.5 0 1 0 3 0a1.5 1.5 0 1 0 -3 0M544.17 258.29a1.5 1.5 0 1 0 3 0a1.5 1.5 0 1 0 -3 0M544.78 258.21a1.5 1.5 0 1 0 3 0a1.5 1.5 0 1 0 -3 0M545.38 258.12a1.5 1.5 0 1 0 3 0a1.5 1.5 0 1 0 -3 0M545.99 258.03a1.5 1.5 0 1 0 3 0a1.5 1.5 0 1 0 -3 0M546.6 257.94a1.5 1.5 0 1 0 3 0a1.5 1.5 0 1 0 -3 0M547.2 257.84a1.5 1.5 0 1 0 3 0a1.5 1.5 0 1 0 -3 0M547.8 257.75a1.5 1.5 0 1 0 3 0a1.5 1.5 0 1 0 -3 0M548.41 257.65a1.5 1.5 0 1 0 3 0a1.5 1.5 0 1 0 -3 0M549.01 257.55a1.5 1.5 0 1 0 3 0a1.5 1.5 0 1 0 -3 0M549.62 257.44a1.5 1.5 0 1 0 3 0a1.5 1.5 0 1 0 -3 0M550.22 257.34a1.5 1.5 0 1 0 3 0a1.5 1.5 0 1 0 -3 0M550.83 257.23a1.5 1.5 0 1 0 3 0a1.5 1.5 0 1 0 -3 0M551.43 257.12a1.5 1.5 0 1 0 3 0a1.5 1.5 0 1 0 -3 0M552.04 257.01a1.5 1.5 0 1 0 3 0a1.5 1.5 0 1 0 -3 0M552.64 256.89a1.5 1.5 0 1 0 3 0a1.5 1.5 0 1 0 -3 0M553.25 256.78a1.5 1.5 0 1 0 3 0a1.5 1.5 0 1 0 -3 0M553.86 256.66a1.5 1.5 0 1 0 3 0a1.5 1.5 0 1 0 -3 0M554.46 256.54a1.5 1.5 0 1 0 3 0a1.5 1.5 0 1 0 -3 0M555.06 256.42a1.5 1.5 0 1 0 3 0a1.5 1.5 0 1 0 -3 0M555.67 256.3a1.5 1.5 0 1 0 3 0a1.5 1.5 0 1 0 -3 0M556.27 256.17a1.5 1.5 0 1 0 3 0a1.5 1.5 0 1 0 -3 0M556.88 256.05a1.5 1.5 0 1 0 3 0a1.5 1.5 0 1 0 -3 0M557.49 255.93a1.5 1.5 0 1 0 3 0a1.5 1.5 0 1 0 -3 0M558.09 255.8a1.5 1.5 0 1 0 3 0a1.5 1.5 0 1 0 -3 0M558.69 255.67a1.5 1.5 0 1 0 3 0a1.5 1.5 0 1 0 -3 0M559.3 255.55a1.5 1.5 0 1 0 3 0a1.5 1.5 0 1 0 -3 0M559.9 255.42a1.5 1.5 0 1 0 3 0a1.5 1.5 0 1 0 -3 0M560.51 255.29a1.5 1.5 0 1 0 3 0a1.5 1.5 0 1 0 -3 0M561.12 255.15a1.5 1.5 0 1 0 3 0a1.5 1.5 0 1 0 -3 0M561.72 255.01a1.5 1.5 0 1 0 3 0a1.5 1.5 0 1 0 -3 0M562.32 254.87a1.5 1.5 0 1 0 3 0a1.5 1.5 0 1 0 -3 0M562.93 254.72a1.5 1.5 0 1 0 3 0a1.5 1.5 0 1 0 -3 0M563.53 254.56a1.5 1.5 0 1 0 3 0a1.5 1.5 0 1 0 -3 0M564.14 254.4a1.5 1.5 0 1 0 3 0a1.5 1.5 0 1 0 -3 0M564.75 254.24a1.5 1.5 0 1 0 3 0a1.5 1.5 0 1 0 -3 0M565.35 254.07a1.5 1.5 0 1 0 3 0a1.5 1.5 0 1 0 -3 0M565.95 253.9a1.5 1.5 0 1 0 3 0a1.5 1.5 0 1 0 -3 0M566.56 253.72a1.5 1.5 0 1 0 3 0a1.5 1.5 0 1 0 -3 0M567.16 253.54a1.5 1.5 0 1 0 3 0a1.5 1.5 0 1 0 -3 0M567.77 253.36a1.5 1.5 0 1 0 3 0a1.5 1.5 0 1 0 -3 0M568.38 253.17a1.5 1.5 0 1 0 3 0a1.5 1.5 0 1 0 -3 0M568.98 252.98a1.5 1.5 0 1 0 3 0a1.5 1.5 0 1 0 -3 0M569.59 252.79a1.5 1.5 0 1 0 3 0a1.5 1.5 0 1 0 -3 0M570.19 252.6a1.5 1.5 0 1 0 3 0a1.5 1.5 0 1 0 -3 0M570.79 252.4a1.5 1.5 0 1 0 3 0a1.5 1.5 0 1 0 -3 0M571.4 252.2a1.5 1.5 0 1 0 3 0a1.5 1.5 0 1 0 -3 0M572 252a1.5 1.5 0 1 0 3 0a1.5 1.5 0 1 0 -3 0M572.61 251.79a1.5 1.5 0 1 0 3 0a1.5 1.5 0 1 0 -3 0M573.21 251.58a1.5 1.5 0 1 0 3 0a1.5 1.5 0 1 0 -3 0M573.82 251.37a1.5 1.5 0 1 0 3 0a1.5 1.5 0 1 0 -3 0M574.42 251.15a1.5 1.5 0 1 0 3 0a1.5 1.5 0 1 0 -3 0M575.03 250.92a1.5 1.5 0 1 0 3 0a1.5 1.5 0 1 0 -3 0M575.63 250.69a1.5 1.5 0 1 0 3 0a1.5 1.5 0 1 0 -3 0M576.24 250.46a1.5 1.5 0 1 0 3 0a1.5 1.5 0 1 0 -3 0M576.85 250.22a1.5 1.5 0 1 0 3 0a1.5 1.5 0 1 0 -3 0M577.45 249.97a1.5 1.5 0 1 0 3 0a1.5 1.5 0 1 0 -3 0M578.05 249.72a1.5 1.5 0 1 0 3 0a1.5 1.5 0 1 0 -3 0M578.66 249.46a1.5 1.5 0 1 0 3 0a1.5 1.5 0 1 0 -3 0M579.26 249.19a1.5 1.5 0 1 0 3 0a1.5 1.5 0 1 0 -3 0M579.87 248.92a1.5 1.5 0 1 0 3 0a1.5 1.5 0 1 0 -3 0M580.47 248.64a1.5 1.5 0 1 0 3 0a1.5 1.5 0 1 0 -3 0M581.08 248.35a1.5 1.5 0 1 0 3 0a1.5 1.5 0 1 0 -3 0M581.68 248.06a1.5 1.5 0 1 0 3 0a1.5 1.5 0 1 0 -3 0M582.29 247.75a1.5 1.5 0 1 0 3 0a1.5 1.5 0 1 0 -3 0M582.89 247.44a1.5 1.5 0 1 0 3 0a1.5 1.5 0 1 0 -3 0M583.5 247.11a1.5 1.5 0 1 0 3 0a1.5 1.5 0 1 0 -3 0M584.11 246.77a1.5 1.5 0 1 0 3 0a1.5 1.5 0 1 0 -3 0M584.71 246.42a1.5 1.5 0 1 0 3 0a1.5 1.5 0 1 0 -3 0M585.31 246.06a1.5 1.5 0 1 0 3 0a1.5 1.5 0 1 0 -3 0M585.92 245.69a1.5 1.5 0 1 0 3 0a1.5 1.5 0 1 0 -3 0M586.52 245.31a1.5 1.5 0 1 0 3 0a1.5 1.5 0 1 0 -3 0M587.13 244.92a1.5 1.5 0 1 0 3 0a1.5 1.5 0 1 0 -3 0M587.74 244.52a1.5 1.5 0 1 0 3 0a1.5 1.5 0 1 0 -3 0M588.34 244.11a1.5 1.5 0 1 0 3 0a1.5 1.5 0 1 0 -3 0M588.94 243.69a1.5 1.5 0 1 0 3 0a1.5 1.5 0 1 0 -3 0M589.55 243.26a1.5 1.5 0 1 0 3 0a1.5 1.5 0 1 0 -3 0M590.15 242.83a1.5 1.5 0 1 0 3 0a1.5 1.5 0 1 0 -3 0M590.76 242.38a1.5 1.5 0 1 0 3 0a1.5 1.5 0 1 0 -3 0M591.37 241.92a1.5 1.5 0 1 0 3 0a1.5 1.5 0 1 0 -3 0M591.97 241.46a1.5 1.5 0 1 0 3 0a1.5 1.5 0 1 0 -3 0M592.57 240.98a1.5 1.5 0 1 0 3 0a1.5 1.5 0 1 0 -3 0M593.18 240.5a1.5 1.5 0 1 0 3 0a1.5 1.5 0 1 0 -3 0M593.78 240a1.5 1.5 0 1 0 3 0a1.5 1.5 0 1 0 -3 0M594.39 239.49a1.5 1.5 0 1 0 3 0a1.5 1.5 0 1 0 -3 0M595 238.96a1.5 1.5 0 1 0 3 0a1.5 1.5 0 1 0 -3 0M595.6 238.42a1.5 1.5 0 1 0 3 0a1.5 1.5 0 1 0 -3 0M596.2 237.86a1.5 1.5 0 1 0 3 0a1.5 1.5 0 1 0 -3 0M596.81 237.3a1.5 1.5 0 1 0 3 0a1.5 1.5 0 1 0 -3 0M597.41 236.71a1.5 1.5 0 1 0 3 0a1.5 1.5 0 1 0 -3 0M598.02 236.11a1.5 1.5 0 1 0 3 0a1.5 1.5 0 1 0 -3 0M598.62 235.49a1.5 1.5 0 1 0 3 0a1.5 1.5 0 1 0 -3 0M599.23 234.86a1.5 1.5 0 1 0 3 0a1.5 1.5 0 1 0 -3 0M599.84 234.21a1.5 1.5 0 1 0 3 0a1.5 1.5 0 1 0 -3 0M600.44 233.54a1.5 1.5 0 1 0 3 0a1.5 1.5 0 1 0 -3 0M601.04 232.86a1.5 1.5 0 1 0 3 0a1.5 1.5 0 1 0 -3 0M601.65 232.16a1.5 1.5 0 1 0 3 0a1.5 1.5 0 1 0 -3 0M602.25 231.44a1.5 1.5 0 1 0 3 0a1.5 1.5 0 1 0 -3 0M602.86 230.7a1.5 1.5 0 1 0 3 0a1.5 1.5 0 1 0 -3 0M603.46 229.94a1.5 1.5 0 1 0 3 0a1.5 1.5 0 1 0 -3 0M604.07 229.14a1.5 1.5 0 1 0 3 0a1.5 1.5 0 1 0 -3 0M604.67 228.31a1.5 1.5 0 1 0 3 0a1.5 1.5 0 1 0 -3 0M605.28 227.44a1.5 1.5 0 1 0 3 0a1.5 1.5 0 1 0 -3 0M605.88 226.54a1.5 1.5 0 1 0 3 0a1.5 1.5 0 1 0 -3 0M606.49 225.6a1.5 1.5 0 1 0 3 0a1.5 1.5 0 1 0 -3 0M607.1 224.64a1.5 1.5 0 1 0 3 0a1.5 1.5 0 1 0 -3 0M607.7 223.65a1.5 1.5 0 1 0 3 0a1.5 1.5 0 1 0 -3 0M608.3 222.62a1.5 1.5 0 1 0 3 0a1.5 1.5 0 1 0 -3 0M608.91 221.57a1.5 1.5 0 1 0 3 0a1.5 1.5 0 1 0 -3 0M609.51 220.49a1.5 1.5 0 1 0 3 0a1.5 1.5 0 1 0 -3 0M610.12 219.39a1.5 1.5 0 1 0 3 0a1.5 1.5 0 1 0 -3 0M610.72 218.26a1.5 1.5 0 1 0 3 0a1.5 1.5 0 1 0 -3 0M611.33 217.11a1.5 1.5 0 1 0 3 0a1.5 1.5 0 1 0 -3 0M611.93 215.94a1.5 1.5 0 1 0 3 0a1.5 1.5 0 1 0 -3 0M612.54 214.72a1.5 1.5 0 1 0 3 0a1.5 1.5 0 1 0 -3 0M613.14 213.46a1.5 1.5 0 1 0 3 0a1.5 1.5 0 1 0 -3 0M613.75 212.15a1.5 1.5 0 1 0 3 0a1.5 1.5 0 1 0 -3 0M614.36 210.79a1.5 1.5 0 1 0 3 0a1.5 1.5 0 1 0 -3 0M614.96 209.39a1.5 1.5 0 1 0 3 0a1.5 1.5 0 1 0 -3 0M615.56 207.94a1.5 1.5 0 1 0 3 0a1.5 1.5 0 1 0 -3 0M616.17 206.44a1.5 1.5 0 1 0 3 0a1.5 1.5 0 1 0 -3 0M616.77 204.9a1.5 1.5 0 1 0 3 0a1.5 1.5 0 1 0 -3 0M617.38 203.32a1.5 1.5 0 1 0 3 0a1.5 1.5 0 1 0 -3 0M617.99 201.69a1.5 1.5 0 1 0 3 0a1.5 1.5 0 1 0 -3 0M618.59 200.01a1.5 1.5 0 1 0 3 0a1.5 1.5 0 1 0 -3 0M619.19 198.24a1.5 1.5 0 1 0 3 0a1.5 1.5 0 1 0 -3 0M619.8 196.41a1.5 1.5 0 1 0 3 0a1.5 1.5 0 1 0 -3 0M620.4 194.5a1.5 1.5 0 1 0 3 0a1.5 1.5 0 1 0 -3 0M621.01 192.52a1.5 1.5 0 1 0 3 0a1.5 1.5 0 1 0 -3 0M621.62 190.49a1.5 1.5 0 1 0 3 0a1.5 1.5 0 1 0 -3 0M622.22 188.41a1.5 1.5 0 1 0 3 0a1.5 1.5 0 1 0 -3 0M622.82 186.29a1.5 1.5 0 1 0 3 0a1.5 1.5 0 1 0 -3 0M623.43 184.13a1.5 1.5 0 1 0 3 0a1.5 1.5 0 1 0 -3 0M624.03 181.94a1.5 1.5 0 1 0 3 0a1.5 1.5 0 1 0 -3 0M624.64 179.72a1.5 1.5 0 1 0 3 0a1.5 1.5 0 1 0 -3 0M625.25 177.47a1.5 1.5 0 1 0 3 0a1.5 1.5 0 1 0 -3 0M625.85 175.15a1.5 1.5 0 1 0 3 0a1.5 1.5 0 1 0 -3 0M626.45 172.75a1.5 1.5 0 1 0 3 0a1.5 1.5 0 1 0 -3 0M627.06 170.25a1.5 1.5 0 1 0 3 0a1.5 1.5 0 1 0 -3 0M627.66 167.65a1.5 1.5 0 1 0 3 0a1.5 1.5 0 1 0 -3 0M628.27 164.91a1.5 1.5 0 1 0 3 0a1.5 1.5 0 1 0 -3 0M628.88 162.02a1.5 1.5 0 1 0 3 0a1.5 1.5 0 1 0 -3 0M629.48 158.98a1.5 1.5 0 1 0 3 0a1.5 1.5 0 1 0 -3 0M630.09 155.83a1.5 1.5 0 1 0 3 0a1.5 1.5 0 1 0 -3 0M630.69 152.55a1.5 1.5 0 1 0 3 0a1.5 1.5 0 1 0 -3 0M631.29 149.13a1.5 1.5 0 1 0 3 0a1.5 1.5 0 1 0 -3 0M631.9 145.52a1.5 1.5 0 1 0 3 0a1.5 1.5 0 1 0 -3 0M632.5 141.79a1.5 1.5 0 1 0 3 0a1.5 1.5 0 1 0 -3 0M633.11 138.01a1.5 1.5 0 1 0 3 0a1.5 1.5 0 1 0 -3 0M633.71 134.13a1.5 1.5 0 1 0 3 0a1.5 1.5 0 1 0 -3 0M634.32 130.15a1.5 1.5 0 1 0 3 0a1.5 1.5 0 1 0 -3 0M634.92 126.11a1.5 1.5 0 1 0 3 0a1.5 1.5 0 1 0 -3 0M635.53 122.06a1.5 1.5 0 1 0 3 0a1.5 1.5 0 1 0 -3 0M636.13 118.01a1.5 1.5 0 1 0 3 0a1.5 1.5 0 1 0 -3 0M636.74 113.92a1.5 1.5 0 1 0 3 0a1.5 1.5 0 1 0 -3 0M637.35 109.71a1.5 1.5 0 1 0 3 0a1.5 1.5 0 1 0 -3 0M637.95 105.36a1.5 1.5 0 1 0 3 0a1.5 1.5 0 1 0 -3 0M638.55 100.85a1.5 1.5 0 1 0 3 0a1.5 1.5 0 1 0 -3 0M639.16 96.23a1.5 1.5 0 1 0 3 0a1.5 1.5 0 1 0 -3 0M639.76 91.55a1.5 1.5 0 1 0 3 0a1.5 1.5 0 1 0 -3 0M640.37 86.8a1.5 1.5 0 1 0 3 0a1.5 1.5 0 1 0 -3 0M640.97 81.94a1.5 1.5 0 1 0 3 0a1.5 1.5 0 1 0 -3 0M641.58 77.05a1.5 1.5 0 1 0 3 0a1.5 1.5 0 1 0 -3 0M642.18 72.22a1.5 1.5 0 1 0 3 0a1.5 1.5 0 1 0 -3 0M642.79 67.37a1.5 1.5 0 1 0 3 0a1.5 1.5 0 1 0 -3 0M643.39 62.49a1.5 1.5 0 1 0 3 0a1.5 1.5 0 1 0 -3 0M644 57.79a1.5 1.5 0 1 0 3 0a1.5 1.5 0 1 0 -3 0M644.61 53.48a1.5 1.5 0 1 0 3 0a1.5 1.5 0 1 0 -3 0M645.21 49.45a1.5 1.5 0 1 0 3 0a1.5 1.5 0 1 0 -3 0M645.81 45.64a1.5 1.5 0 1 0 3 0a1.5 1.5 0 1 0 -3 0M646.42 42.17a1.5 1.5 0 1 0 3 0a1.5 1.5 0 1 0 -3 0M647.02 39.11a1.5 1.5 0 1 0 3 0a1.5 1.5 0 1 0 -3 0M647.63 36.35a1.5 1.5 0 1 0 3 0a1.5 1.5 0 1 0 -3 0M648.23 33.84a1.5 1.5 0 1 0 3 0a1.5 1.5 0 1 0 -3 0M648.84 31.59a1.5 1.5 0 1 0 3 0a1.5 1.5 0 1 0 -3 0M649.44 29.57a1.5 1.5 0 1 0 3 0a1.5 1.5 0 1 0 -3 0M650.05 27.71a1.5 1.5 0 1 0 3 0a1.5 1.5 0 1 0 -3 0M650.65 26.03a1.5 1.5 0 1 0 3 0a1.5 1.5 0 1 0 -3 0M651.26 24.59a1.5 1.5 0 1 0 3 0a1.5 1.5 0 1 0 -3 0M651.87 23.38a1.5 1.5 0 1 0 3 0a1.5 1.5 0 1 0 -3 0M652.47 22.28a1.5 1.5 0 1 0 3 0a1.5 1.5 0 1 0 -3 0M653.07 21.34a1.5 1.5 0 1 0 3 0a1.5 1.5 0 1 0 -3 0M653.68 20.62a1.5 1.5 0 1 0 3 0a1.5 1.5 0 1 0 -3 0M654.28 20.07a1.5 1.5 0 1 0 3 0a1.5 1.5 0 1 0 -3 0M654.89 19.6a1.5 1.5 0 1 0 3 0a1.5 1.5 0 1 0 -3 0M655.5 19.22a1.5 1.5 0 1 0 3 0a1.5 1.5 0 1 0 -3 0M656.1 18.96a1.5 1.5 0 1 0 3 0a1.5 1.5 0 1 0 -3 0M656.7 18.76a1.5 1.5 0 1 0 3 0a1.5 1.5 0 1 0 -3 0M657.31 18.59a1.5 1.5 0 1 0 3 0a1.5 1.5 0 1 0 -3 0M657.91 18.46a1.5 1.5 0 1 0 3 0a1.5 1.5 0 1 0 -3 0M658.52 18.4a1.5 1.5 0 1 0 3 0a1.5 1.5 0 1 0 -3 0M659.12 18.37a1.5 1.5 0 1 0 3 0a1.5 1.5 0 1 0 -3 0M659.73 18.35a1.5 1.5 0 1 0 3 0a1.5 1.5 0 1 0 -3 0M660.34 18.33a1.5 1.5 0 1 0 3 0a1.5 1.5 0 1 0 -3 0M660.94 18.32a1.5 1.5 0 1 0 3 0a1.5 1.5 0 1 0 -3 0M661.54 18.31a1.5 1.5 0 1 0 3 0a1.5 1.5 0 1 0 -3 0M662.15 18.3a1.5 1.5 0 1 0 3 0a1.5 1.5 0 1 0 -3 0M662.75 18.3a1.5 1.5 0 1 0 3 0a1.5 1.5 0 1 0 -3 0M663.36 18.3a1.5 1.5 0 1 0 3 0a1.5 1.5 0 1 0 -3 0M663.96 18.3a1.5 1.5 0 1 0 3 0a1.5 1.5 0 1 0 -3 0M664.57 18.3a1.5 1.5 0 1 0 3 0a1.5 1.5 0 1 0 -3 0M665.17 18.3a1.5 1.5 0 1 0 3 0a1.5 1.5 0 1 0 -3 0M665.78 18.3a1.5 1.5 0 1 0 3 0a1.5 1.5 0 1 0 -3 0M666.38 18.3a1.5 1.5 0 1 0 3 0a1.5 1.5 0 1 0 -3 0M666.99 18.3a1.5 1.5 0 1 0 3 0a1.5 1.5 0 1 0 -3 0M667.6 18.3a1.5 1.5 0 1 0 3 0a1.5 1.5 0 1 0 -3 0M668.2 18.3a1.5 1.5 0 1 0 3 0a1.5 1.5 0 1 0 -3 0M668.8 18.3a1.5 1.5 0 1 0 3 0a1.5 1.5 0 1 0 -3 0M669.41 18.3a1.5 1.5 0 1 0 3 0a1.5 1.5 0 1 0 -3 0M670.01 18.3a1.5 1.5 0 1 0 3 0a1.5 1.5 0 1 0 -3 0M670.62 18.3a1.5 1.5 0 1 0 3 0a1.5 1.5 0 1 0 -3 0M671.22 18.3a1.5 1.5 0 1 0 3 0a1.5 1.5 0 1 0 -3 0M671.83 18.3a1.5 1.5 0 1 0 3 0a1.5 1.5 0 1 0 -3 0" fill="#000"/>
<path d="M419.9 262.35L421.65 259.25L423.4 262.35ZM420.5 262.35L422.25 259.25L424 262.35ZM421.11 262.35L422.86 259.25L424.61 262.35ZM421.71 262.35L423.46 259.25L425.21 262.35ZM422.32 262.35L424.07 259.25L425.82 262.35ZM422.92 262.35L424.67 259.25L426.42 262.35ZM423.53 262.34L425.28 259.24L427.03 262.34ZM424.13 262.34L425.88 259.24L427.63 262.34ZM424.74 262.34L426.49 259.24L428.24 262.34ZM425.34 262.33L427.09 259.23L428.84 262.33ZM425.95 262.33L427.7 259.23L429.45 262.33ZM426.55 262.33L428.3 259.23L430.05 262.33ZM427.16 262.32L428.91 259.22L430.66 262.32ZM427.76 262.32L429.51 259.22L431.26 262.32ZM428.37 262.31L430.12 259.21L431.87 262.31ZM428.97 262.31L430.72 259.21L432.47 262.31ZM429.58 262.3L431.33 259.2L433.08 262.3ZM430.19 262.29L431.94 259.19L433.69 262.29ZM430.79 262.29L432.54 259.19L434.29 262.29ZM431.39 262.28L433.14 259.18L434.89 262.28ZM432 262.27L433.75 259.17L435.5 262.27ZM432.6 262.26L434.35 259.16L436.1 262.26ZM433.21 262.26L434.96 259.16L436.71 262.26ZM433.81 262.25L435.56 259.15L437.31 262.25ZM434.42 262.24L436.17 259.14L437.92 262.24ZM435.02 262.23L436.77 259.13L438.52 262.23ZM435.63 262.22L437.38 259.12L439.13 262.22ZM436.23 262.21L437.98 259.11L439.73 262.21ZM436.84 262.2L438.59 259.1L440.34 262.2ZM437.44 262.19L439.19 259.09L440.94 262.19ZM438.05 262.18L439.8 259.08L441.55 262.18ZM438.65 262.17L440.4 259.07L442.15 262.17ZM439.26 262.16L441.01 259.06L442.76 262.16ZM439.86 262.15L441.61 259.05L443.36 262.15ZM440.47 262.14L442.22 259.04L443.97 262.14ZM441.07 262.13L442.82 259.03L444.57 262.13ZM441.68 262.12L443.43 259.02L445.18 262.12ZM442.28 262.11L444.03 259.01L445.78 262.11ZM442.89 262.09L444.64 258.99L446.39 262.09ZM443.5 262.08L445.25 258.98L447 262.08ZM444.1 262.07L445.85 258.97L447.6 262.07ZM444.7 262.06L446.45 258.96L448.2 262.06ZM445.31 262.04L447.06 258.94L448.81 262.04ZM445.91 262.03L447.66 258.93L449.41 262.03ZM446.52 262.02L448.27 258.92L450.02 262.02ZM447.12 262.01L448.88 258.91L450.62 262.01ZM447.73 261.99L449.48 258.89L451.23 261.99ZM448.33 261.98L450.08 258.88L451.83 261.98ZM448.94 261.97L450.69 258.87L452.44 261.97ZM449.54 261.95L451.29 258.85L453.04 261.95ZM450.15 261.94L451.9 258.84L453.65 261.94ZM450.75 261.92L452.5 258.82L454.25 261.92ZM451.36 261.91L453.11 258.81L454.86 261.91ZM451.96 261.9L453.71 258.8L455.46 261.9ZM452.57 261.88L454.32 258.78L456.07 261.88ZM453.17 261.87L454.92 258.77L456.67 261.87ZM453.78 261.86L455.53 258.76L457.28 261.86ZM454.38 261.84L456.13 258.74L457.88 261.84ZM454.99 261.83L456.74 258.73L458.49 261.83ZM455.59 261.81L457.34 258.71L459.09 261.81ZM456.2 261.8L457.95 258.7L459.7 261.8ZM456.8 261.78L458.55 258.68L460.3 261.78ZM457.41 261.77L459.16 258.67L460.91 261.77ZM458.01 261.76L459.76 258.66L461.51 261.76ZM458.62 261.74L460.37 258.64L462.12 261.74ZM459.22 261.73L460.97 258.63L462.72 261.73ZM459.83 261.71L461.58 258.61L463.33 261.71ZM460.43 261.69L462.18 258.59L463.93 261.69ZM461.04 261.68L462.79 258.58L464.54 261.68ZM461.64 261.66L463.39 258.56L465.14 261.66ZM462.25 261.64L464 258.54L465.75 261.64ZM462.85 261.63L464.6 258.53L466.35 261.63ZM463.46 261.61L465.21 258.51L466.96 261.61ZM464.06 261.59L465.81 258.49L467.56 261.59ZM464.67 261.57L466.42 258.47L468.17 261.57ZM465.27 261.55L467.02 258.45L468.77 261.55ZM465.88 261.53L467.63 258.43L469.38 261.53ZM466.48 261.51L468.23 258.41L469.98 261.51ZM467.09 261.49L468.84 258.39L470.59 261.49ZM467.69 261.46L469.44 258.36L471.19 261.46ZM468.3 261.44L470.05 258.34L471.8 261.44ZM468.9 261.42L470.65 258.32L472.4 261.42ZM469.51 261.39L471.26 258.29L473.01 261.39ZM470.11 261.37L471.86 258.27L473.61 261.37ZM470.72 261.35L472.47 258.25L474.22 261.35ZM471.32 261.32L473.07 258.22L474.82 261.32ZM471.93 261.3L473.68 258.2L475.43 261.3ZM472.53 261.27L474.28 258.17L476.03 261.27ZM473.14 261.24L474.89 258.14L476.64 261.24ZM473.75 261.22L475.5 258.12L477.25 261.22ZM474.35 261.19L476.1 258.09L477.85 261.19ZM474.95 261.16L476.7 258.06L478.45 261.16ZM475.56 261.13L477.31 258.03L479.06 261.13ZM476.16 261.11L477.91 258.01L479.66 261.11ZM476.77 261.08L478.52 257.98L480.27 261.08ZM477.38 261.05L479.12 257.95L480.88 261.05ZM477.98 261.02L479.73 257.92L481.48 261.02ZM478.58 260.99L480.33 257.89L482.08 260.99ZM479.19 260.96L480.94 257.86L482.69 260.96ZM479.79 260.92L481.54 257.82L483.29 260.92ZM480.4 260.89L482.15 257.79L483.9 260.89ZM481 260.86L482.75 257.76L484.5 260.86ZM481.61 260.83L483.36 257.73L485.11 260.83ZM482.21 260.79L483.96 257.69L485.71 260.79ZM482.82 260.76L484.57 257.66L486.32 260.76ZM483.42 260.73L485.17 257.63L486.92 260.73ZM484.03 260.69L485.78 257.59L487.53 260.69ZM484.63 260.66L486.38 257.56L488.13 260.66ZM485.24 260.62L486.99 257.52L488.74 260.62ZM485.84 260.59L487.59 257.49L489.34 260.59ZM486.45 260.55L488.2 257.45L489.95 260.55ZM487.05 260.51L488.8 257.41L490.55 260.51ZM487.66 260.48L489.41 257.38L491.16 260.48ZM488.26 260.44L490.01 257.34L491.76 260.44ZM488.87 260.4L490.62 257.3L492.37 260.4ZM489.47 260.36L491.22 257.26L492.97 260.36ZM490.08 260.33L491.83 257.23L493.58 260.33ZM490.68 260.29L492.43 257.19L494.18 260.29ZM491.29 260.25L493.04 257.15L494.79 260.25ZM491.89 260.21L493.64 257.11L495.39 260.21ZM492.5 260.17L494.25 257.07L496 260.17ZM493.1 260.12L494.85 257.02L496.6 260.12ZM493.71 260.08L495.46 256.98L497.21 260.08ZM494.31 260.03L496.06 256.93L497.81 260.03ZM494.92 259.98L496.67 256.88L498.42 259.98ZM495.52 259.94L497.27 256.84L499.02 259.94ZM496.13 259.89L497.88 256.79L499.63 259.89ZM496.73 259.83L498.48 256.73L500.23 259.83ZM497.34 259.78L499.09 256.68L500.84 259.78ZM497.94 259.73L499.69 256.63L501.44 259.73ZM498.55 259.67L500.3 256.57L502.05 259.67ZM499.15 259.62L500.9 256.52L502.65 259.62ZM499.76 259.56L501.51 256.46L503.26 259.56ZM500.37 259.5L502.12 256.4L503.87 259.5ZM500.97 259.44L502.72 256.34L504.47 259.44ZM501.57 259.38L503.32 256.28L505.07 259.38ZM502.18 259.32L503.93 256.22L505.68 259.32ZM502.78 259.25L504.53 256.15L506.28 259.25ZM503.39 259.19L505.14 256.09L506.89 259.19ZM504 259.12L505.75 256.02L507.5 259.12ZM504.6 259.05L506.35 255.95L508.1 259.05ZM505.2 258.98L506.95 255.88L508.7 258.98ZM505.81 258.92L507.56 255.82L509.31 258.92ZM506.41 258.84L508.16 255.74L509.91 258.84ZM507.02 258.77L508.77 255.67L510.52 258.77ZM507.62 258.7L509.38 255.6L511.12 258.7ZM508.23 258.63L509.98 255.53L511.73 258.63ZM508.83 258.55L510.58 255.45L512.34 258.55ZM509.44 258.47L511.19 255.37L512.94 258.47ZM510.04 258.4L511.79 255.3L513.54 258.4ZM510.65 258.32L512.4 255.22L514.15 258.32ZM511.25 258.24L513 255.14L514.75 258.24ZM511.86 258.16L513.61 255.06L515.36 258.16ZM512.46 258.08L514.21 254.98L515.96 258.08ZM513.07 258L514.82 254.9L516.57 258ZM513.67 257.91L515.42 254.81L517.17 257.91ZM514.28 257.83L516.03 254.73L517.78 257.83ZM514.88 257.74L516.63 254.64L518.38 257.74ZM515.49 257.66L517.24 254.56L518.99 257.66ZM516.1 257.57L517.85 254.47L519.6 257.57ZM516.7 257.48L518.45 254.38L520.2 257.48ZM517.3 257.39L519.05 254.29L520.8 257.39ZM517.91 257.3L519.66 254.2L521.41 257.3ZM518.51 257.21L520.26 254.11L522.01 257.21ZM519.12 257.11L520.87 254.01L522.62 257.11ZM519.73 257.01L521.48 253.91L523.23 257.01ZM520.33 256.91L522.08 253.81L523.83 256.91ZM520.93 256.8L522.68 253.7L524.43 256.8ZM521.54 256.69L523.29 253.59L525.04 256.69ZM522.14 256.59L523.89 253.49L525.64 256.59ZM522.75 256.47L524.5 253.37L526.25 256.47ZM523.36 256.36L525.11 253.26L526.86 256.36ZM523.96 256.24L525.71 253.14L527.46 256.24ZM524.56 256.12L526.31 253.02L528.06 256.12ZM525.17 256L526.92 252.9L528.67 256ZM525.77 255.88L527.52 252.78L529.27 255.88ZM526.38 255.76L528.13 252.66L529.88 255.76ZM526.99 255.63L528.74 252.53L530.49 255.63ZM527.59 255.5L529.34 252.4L531.09 255.5ZM528.19 255.37L529.94 252.27L531.69 255.37ZM528.8 255.23L530.55 252.13L532.3 255.23ZM529.4 255.09L531.15 251.99L532.9 255.09ZM530.01 254.96L531.76 251.86L533.51 254.96ZM530.62 254.82L532.37 251.72L534.12 254.82ZM531.22 254.67L532.97 251.57L534.72 254.67ZM531.82 254.53L533.57 251.43L535.32 254.53ZM532.43 254.38L534.18 251.28L535.93 254.38ZM533.03 254.23L534.78 251.13L536.53 254.23ZM533.64 254.08L535.39 250.98L537.14 254.08ZM534.25 253.92L536 250.82L537.75 253.92ZM534.85 253.77L536.6 250.67L538.35 253.77ZM535.45 253.61L537.2 250.51L538.95 253.61ZM536.06 253.45L537.81 250.35L539.56 253.45ZM536.66 253.29L538.41 250.19L540.16 253.29ZM537.27 253.12L539.02 250.02L540.77 253.12ZM537.88 252.95L539.62 249.85L541.38 252.95ZM538.48 252.79L540.23 249.69L541.98 252.79ZM539.09 252.61L540.84 249.51L542.59 252.61ZM539.69 252.42L541.44 249.32L543.19 252.42ZM540.29 252.23L542.04 249.13L543.79 252.23ZM540.9 252.03L542.65 248.93L544.4 252.03ZM541.5 251.82L543.25 248.72L545 251.82ZM542.11 251.61L543.86 248.51L545.61 251.61ZM542.71 251.39L544.46 248.29L546.21 251.39ZM543.32 251.17L545.07 248.07L546.82 251.17ZM543.92 250.94L545.67 247.84L547.42 250.94ZM544.53 250.7L546.28 247.6L548.03 250.7ZM545.13 250.46L546.88 247.36L548.63 250.46ZM545.74 250.22L547.49 247.12L549.24 250.22ZM546.35 249.97L548.1 246.87L549.85 249.97ZM546.95 249.73L548.7 246.63L550.45 249.73ZM547.55 249.48L549.3 246.38L551.05 249.48ZM548.16 249.22L549.91 246.12L551.66 249.22ZM548.76 248.97L550.51 245.87L552.26 248.97ZM549.37 248.71L551.12 245.61L552.87 248.71ZM549.97 248.46L551.72 245.36L553.47 248.46ZM550.58 248.19L552.33 245.09L554.08 248.19ZM551.18 247.93L552.93 244.83L554.68 247.93ZM551.79 247.66L553.54 244.56L555.29 247.66ZM552.39 247.38L554.14 244.28L555.89 247.38ZM553 247.1L554.75 244L556.5 247.1ZM553.61 246.82L555.36 243.72L557.11 246.82ZM554.21 246.53L555.96 243.43L557.71 246.53ZM554.81 246.24L556.56 243.14L558.31 246.24ZM555.42 245.94L557.17 242.84L558.92 245.94ZM556.02 245.64L557.77 242.54L559.52 245.64ZM556.63 245.33L558.38 242.23L560.13 245.33ZM557.24 245.01L558.99 241.91L560.74 245.01ZM557.84 244.69L559.59 241.59L561.34 244.69ZM558.44 244.37L560.19 241.27L561.94 244.37ZM559.05 244.04L560.8 240.94L562.55 244.04ZM559.65 243.7L561.4 240.6L563.15 243.7ZM560.26 243.36L562.01 240.26L563.76 243.36ZM560.87 243.01L562.62 239.91L564.37 243.01ZM561.47 242.66L563.22 239.56L564.97 242.66ZM562.07 242.3L563.82 239.2L565.57 242.3ZM562.68 241.93L564.43 238.83L566.18 241.93ZM563.28 241.56L565.03 238.46L566.78 241.56ZM563.89 241.17L565.64 238.07L567.39 241.17ZM564.5 240.78L566.25 237.68L568 240.78ZM565.1 240.39L566.85 237.29L568.6 240.39ZM565.7 239.98L567.45 236.88L569.2 239.98ZM566.31 239.57L568.06 236.47L569.81 239.57ZM566.91 239.15L568.66 236.05L570.41 239.15ZM567.52 238.72L569.27 235.62L571.02 238.72ZM568.12 238.29L569.88 235.19L571.62 238.29ZM568.73 237.84L570.48 234.74L572.23 237.84ZM569.34 237.39L571.09 234.29L572.84 237.39ZM569.94 236.93L571.69 233.83L573.44 236.93ZM570.54 236.45L572.29 233.35L574.04 236.45ZM571.15 235.97L572.9 232.87L574.65 235.97ZM571.75 235.47L573.5 232.37L575.25 235.47ZM572.36 234.96L574.11 231.86L575.86 234.96ZM572.96 234.44L574.71 231.34L576.46 234.44ZM573.57 233.91L575.32 230.81L577.07 233.91ZM574.17 233.36L575.92 230.26L577.67 233.36ZM574.78 232.8L576.53 229.7L578.28 232.8ZM575.38 232.23L577.13 229.13L578.88 232.23ZM575.99 231.65L577.74 228.55L579.49 231.65ZM576.6 231.05L578.35 227.95L580.1 231.05ZM577.2 230.45L578.95 227.35L580.7 230.45ZM577.8 229.84L579.55 226.74L581.3 229.84ZM578.41 229.21L580.16 226.11L581.91 229.21ZM579.01 228.58L580.76 225.48L582.51 228.58ZM579.62 227.94L581.37 224.84L583.12 227.94ZM580.22 227.28L581.97 224.18L583.72 227.28ZM580.83 226.62L582.58 223.52L584.33 226.62ZM581.43 225.96L583.18 222.86L584.93 225.96ZM582.04 225.27L583.79 222.17L585.54 225.27ZM582.64 224.57L584.39 221.47L586.14 224.57ZM583.25 223.85L585 220.75L586.75 223.85ZM583.86 223.11L585.61 220.01L587.36 223.11ZM584.46 222.36L586.21 219.26L587.96 222.36ZM585.06 221.59L586.81 218.49L588.56 221.59ZM585.67 220.81L587.42 217.71L589.17 220.81ZM586.27 220.02L588.02 216.92L589.77 220.02ZM586.88 219.22L588.63 216.12L590.38 219.22ZM587.49 218.4L589.24 215.3L590.99 218.4ZM588.09 217.58L589.84 214.48L591.59 217.58ZM588.69 216.75L590.44 213.65L592.19 216.75ZM589.3 215.91L591.05 212.81L592.8 215.91ZM589.9 215.07L591.65 211.97L593.4 215.07ZM590.51 214.22L592.26 211.12L594.01 214.22ZM591.12 213.37L592.87 210.27L594.62 213.37ZM591.72 212.52L593.47 209.42L595.22 212.52ZM592.32 211.66L594.07 208.56L595.82 211.66ZM592.93 210.8L594.68 207.7L596.43 210.8ZM593.53 209.94L595.28 206.84L597.03 209.94ZM594.14 209.08L595.89 205.98L597.64 209.08ZM594.75 208.21L596.5 205.11L598.25 208.21ZM595.35 207.33L597.1 204.23L598.85 207.33ZM595.95 206.44L597.7 203.34L599.45 206.44ZM596.56 205.55L598.31 202.45L600.06 205.55ZM597.16 204.64L598.91 201.54L600.66 204.64ZM597.77 203.73L599.52 200.63L601.27 203.73ZM598.38 202.8L600.12 199.7L601.88 202.8ZM598.98 201.86L600.73 198.76L602.48 201.86ZM599.59 200.9L601.34 197.8L603.09 200.9ZM600.19 199.93L601.94 196.83L603.69 199.93ZM600.79 198.94L602.54 195.84L604.29 198.94ZM601.4 197.94L603.15 194.84L604.9 197.94ZM602 196.91L603.75 193.81L605.5 196.91ZM602.61 195.87L604.36 192.77L606.11 195.87ZM603.21 194.8L604.96 191.7L606.71 194.8ZM603.82 193.71L605.57 190.61L607.32 193.71ZM604.42 192.58L606.17 189.48L607.92 192.58ZM605.03 191.43L606.78 188.33L608.53 191.43ZM605.63 190.25L607.38 187.15L609.13 190.25ZM606.24 189.04L607.99 185.94L609.74 189.04ZM606.85 187.81L608.6 184.71L610.35 187.81ZM607.45 186.56L609.2 183.46L610.95 186.56ZM608.05 185.27L609.8 182.17L611.55 185.27ZM608.66 183.97L610.41 180.87L612.16 183.97ZM609.26 182.64L611.01 179.54L612.76 182.64ZM609.87 181.29L611.62 178.19L613.37 181.29ZM610.47 179.9L612.22 176.8L613.97 179.9ZM611.08 178.49L612.83 175.39L614.58 178.49ZM611.68 177.05L613.43 173.95L615.18 177.05ZM612.29 175.58L614.04 172.48L615.79 175.58ZM612.89 174.07L614.64 170.97L616.39 174.07ZM613.5 172.53L615.25 169.43L617 172.53ZM614.11 170.95L615.86 167.85L617.61 170.95ZM614.71 169.34L616.46 166.24L618.21 169.34ZM615.31 167.68L617.06 164.58L618.81 167.68ZM615.92 165.98L617.67 162.88L619.42 165.98ZM616.52 164.22L618.27 161.12L620.02 164.22ZM617.13 162.38L618.88 159.28L620.63 162.38ZM617.74 160.49L619.49 157.39L621.24 160.49ZM618.34 158.54L620.09 155.44L621.84 158.54ZM618.94 156.56L620.69 153.46L622.44 156.56ZM619.55 154.54L621.3 151.44L623.05 154.54ZM620.15 152.49L621.9 149.39L623.65 152.49ZM620.76 150.4L622.51 147.3L624.26 150.4ZM621.37 148.26L623.12 145.16L624.87 148.26ZM621.97 146.06L623.72 142.96L625.47 146.06ZM622.57 143.83L624.32 140.73L626.07 143.83ZM623.18 141.57L624.93 138.47L626.68 141.57ZM623.78 139.28L625.53 136.18L627.28 139.28ZM624.39 136.98L626.14 133.88L627.89 136.98ZM625 134.68L626.75 131.58L628.5 134.68ZM625.6 132.36L627.35 129.26L629.1 132.36ZM626.2 129.96L627.95 126.86L629.7 129.96ZM626.81 127.42L628.56 124.32L630.31 127.42ZM627.41 124.75L629.16 121.65L630.91 124.75ZM628.02 121.99L629.77 118.89L631.52 121.99ZM628.62 119.13L630.38 116.03L632.12 119.13ZM629.23 116.19L630.98 113.09L632.73 116.19ZM629.84 113.16L631.59 110.06L633.34 113.16ZM630.44 110.03L632.19 106.93L633.94 110.03ZM631.04 106.81L632.79 103.71L634.54 106.81ZM631.65 103.49L633.4 100.39L635.15 103.49ZM632.25 100.06L634 96.96L635.75 100.06ZM632.86 96.33L634.61 93.23L636.36 96.33ZM633.46 92.4L635.21 89.3L636.96 92.4ZM634.07 88.49L635.82 85.39L637.57 88.49ZM634.67 84.77L636.42 81.67L638.17 84.77ZM635.28 81.13L637.03 78.03L638.78 81.13ZM635.88 77.55L637.63 74.45L639.38 77.55ZM636.49 74.02L638.24 70.92L639.99 74.02ZM637.1 70.54L638.85 67.44L640.6 70.54ZM637.7 67.1L639.45 64L641.2 67.1ZM638.3 63.71L640.05 60.61L641.8 63.71ZM638.91 60.36L640.66 57.26L642.41 60.36ZM639.51 56.95L641.26 53.85L643.01 56.95ZM640.12 53.55L641.87 50.45L643.62 53.55ZM640.72 50.28L642.47 47.18L644.22 50.28ZM641.33 47.3L643.08 44.2L644.83 47.3ZM641.93 44.61L643.68 41.51L645.43 44.61ZM642.54 42.07L644.29 38.97L646.04 42.07ZM643.14 39.68L644.89 36.58L646.64 39.68ZM643.75 37.43L645.5 34.33L647.25 37.43ZM644.36 35.34L646.11 32.24L647.86 35.34ZM644.96 33.41L646.71 30.31L648.46 33.41ZM645.56 31.59L647.31 28.49L649.06 31.59ZM646.17 29.87L647.92 26.77L649.67 29.87ZM646.77 28.28L648.52 25.18L650.27 28.28ZM647.38 26.84L649.13 23.74L650.88 26.84ZM647.98 25.58L649.73 22.48L651.48 25.58ZM648.59 24.39L650.34 21.29L652.09 24.39ZM649.19 23.3L650.94 20.2L652.69 23.3ZM649.8 22.37L651.55 19.27L653.3 22.37ZM650.4 21.69L652.15 18.59L653.9 21.69ZM651.01 21.21L652.76 18.11L654.51 21.21ZM651.62 20.78L653.37 17.68L655.12 20.78ZM652.22 20.42L653.97 17.32L655.72 20.42ZM652.82 20.13L654.57 17.03L656.32 20.13ZM653.43 19.92L655.18 16.82L656.93 19.92ZM654.03 19.8L655.78 16.7L657.53 19.8ZM654.64 19.69L656.39 16.59L658.14 19.69ZM655.25 19.61L657 16.51L658.75 19.61ZM655.85 19.56L657.6 16.46L659.35 19.56ZM656.45 19.55L658.2 16.45L659.95 19.55ZM657.06 19.55L658.81 16.45L660.56 19.55ZM657.66 19.55L659.41 16.45L661.16 19.55ZM658.27 19.55L660.02 16.45L661.77 19.55ZM658.88 19.55L660.62 16.45L662.38 19.55ZM659.48 19.55L661.23 16.45L662.98 19.55ZM660.09 19.55L661.84 16.45L663.59 19.55ZM660.69 19.55L662.44 16.45L664.19 19.55ZM661.29 19.55L663.04 16.45L664.79 19.55ZM661.9 19.55L663.65 16.45L665.4 19.55ZM662.5 19.55L664.25 16.45L666 19.55ZM663.11 19.55L664.86 16.45L666.61 19.55ZM663.71 19.55L665.46 16.45L667.21 19.55ZM664.32 19.55L666.07 16.45L667.82 19.55ZM664.92 19.55L666.67 16.45L668.42 19.55ZM665.53 19.55L667.28 16.45L669.03 19.55ZM666.13 19.55L667.88 16.45L669.63 19.55ZM666.74 19.55L668.49 16.45L670.24 19.55ZM667.35 19.55L669.1 16.45L670.85 19.55ZM667.95 19.55L669.7 16.45L671.45 19.55ZM668.55 19.55L670.3 16.45L672.05 19.55ZM669.16 19.55L670.91 16.45L672.66 19.55ZM669.76 19.55L671.51 16.45L673.26 19.55ZM670.37 19.55L672.12 16.45L673.87 19.55ZM670.97 19.55L672.72 16.45L674.47 19.55ZM671.58 19.55L673.33 16.45L675.08 19.55Z" fill="none" stroke="#f00" stroke-width="0.78" stroke-linejoin="miter"/>
<text x="422.7" y="292.3" font-size="15" text-anchor="middle">0.7</text>
<text x="464.2" y="292.3" font-size="15" text-anchor="middle">0.75</text>
<text x="506" y="292.3" font-size="15" text-anchor="middle">0.8</text>
<text x="547.5" y="292.3" font-size="15" text-anchor="middle">0.85</text>
<text x="588.5" y="292.3" font-size="15" text-anchor="middle">0.9</text>
<text x="629.6" y="292.3" font-size="15" text-anchor="middle">0.95</text>
<text x="672.8" y="292.3" font-size="15" text-anchor="middle">1</text>
<text x="415.9" y="267.4" font-size="15" text-anchor="end">0</text>
<text x="415.9" y="218.7" font-size="15" text-anchor="end">0.2</text>
<text x="415.9" y="170" font-size="15" text-anchor="end">0.4</text>
<text x="415.9" y="121.3" font-size="15" text-anchor="end">0.6</text>
<text x="415.9" y="72.6" font-size="15" text-anchor="end">0.8</text>
<text x="415.9" y="23.9" font-size="15" text-anchor="end">1</text>
<text y="36.4"><tspan x="446.4" font-size="14.5" font-weight="bold" font-style="italic">ATLAS</tspan><tspan x="502.5" font-size="13.85">Simulation</tspan></text>
<text y="63.4" font-size="14.1"><tspan x="445.7">0.80</tspan><tspan x="477.6">≤</tspan><tspan x="489">|</tspan><tspan x="491.35">η</tspan><tspan x="498.8">|</tspan><tspan x="505.8">&lt;</tspan><tspan x="518.7">1.15</tspan></text>
<text x="446.1" y="87.3" font-size="14">60 GeV &lt; E<tspan font-size="10" dy="4.7">T</tspan><tspan dy="-4.7"> &lt; 80 GeV</tspan></text>
<circle cx="448.4" cy="120.6" r="2.15" fill="#000"/>
<text x="468" y="125.9" font-size="14">electron</text>
<path d="M446.1 148.2L448.4 143.6L450.7 148.2Z" fill="none" stroke="#f00" stroke-width="0.75"/>
<text x="468" y="151.5" font-size="14">converted photon</text>
<text x="656.7" y="315.8" font-size="17.3">R<tspan font-size="11" dy="5.3" dx="-0.8">ϕ</tspan></text>
<text transform="translate(374.4 12.4) rotate(-90)" font-size="17">)</text>
<text transform="translate(383.24 18.8) rotate(-90)" font-size="11">ϕ</text>
<text transform="translate(374.4 30.7) rotate(-90)" font-size="17">R</text>
<text transform="translate(374.4 36.4) rotate(-90)" font-size="17">(</text>
<text transform="translate(374.4 46.2) rotate(-90)" font-size="17">F</text>
</g>
<g id="p3">
<path d="M75.4 640.5L77.2 637.8L80.8 635.8L83.4 632.7L85.9 630L90.5 627.1L95.1 623.8L98.7 623.2L102.8 621.8L106.9 617.1L109.9 616.4L113 614L116.1 611.3L120.2 608.7L125.3 605.8L128.3 603.1L132.4 600L136 595.9L141.8 591.6L150 585.3L158.8 577.7L167.5 569.5L176.3 561.1L185 552.5L193.8 544.6L202.6 535.2L211.3 524.9L220.1 514.4L228.8 503.3L234.6 495.8L241.9 486.6L249.2 476.4L256.5 464.8L263.8 452.4L271.1 439.4L278.4 427.5L283.1 419.9L287.5 412.4L291.9 405.9L296.3 400.2L300.7 394L305 388.3L308.5 384.6L311.2 384L313.4 383.3L314.7 381.3L316.4 380.9L319.5 380.7" fill="none" stroke="#000" stroke-width="1.85" stroke-linejoin="round"/>
<rect x="67.5" y="373.5" width="252" height="267" fill="none" stroke="#505050" stroke-width="1.0"/>
<path d="M68.5 640.5v-3.4M68.5 373.5v3.4M76.5 640.5v-6.8M76.5 373.5v6.8M84.5 640.5v-3.4M84.5 373.5v3.4M92.5 640.5v-3.4M92.5 373.5v3.4M100.5 640.5v-3.4M100.5 373.5v3.4M108.5 640.5v-3.4M108.5 373.5v3.4M116.5 640.5v-6.8M116.5 373.5v6.8M125.5 640.5v-3.4M125.5 373.5v3.4M133.5 640.5v-3.4M133.5 373.5v3.4M141.5 640.5v-3.4M141.5 373.5v3.4M149.5 640.5v-3.4M149.5 373.5v3.4M157.5 640.5v-6.8M157.5 373.5v6.8M165.5 640.5v-3.4M165.5 373.5v3.4M173.5 640.5v-3.4M173.5 373.5v3.4M181.5 640.5v-3.4M181.5 373.5v3.4M189.5 640.5v-3.4M189.5 373.5v3.4M197.5 640.5v-6.8M197.5 373.5v6.8M206.5 640.5v-3.4M206.5 373.5v3.4M214.5 640.5v-3.4M214.5 373.5v3.4M222.5 640.5v-3.4M222.5 373.5v3.4M230.5 640.5v-3.4M230.5 373.5v3.4M238.5 640.5v-6.8M238.5 373.5v6.8M246.5 640.5v-3.4M246.5 373.5v3.4M254.5 640.5v-3.4M254.5 373.5v3.4M262.5 640.5v-3.4M262.5 373.5v3.4M270.5 640.5v-3.4M270.5 373.5v3.4M278.5 640.5v-6.8M278.5 373.5v6.8M287.5 640.5v-3.4M287.5 373.5v3.4M295.5 640.5v-3.4M295.5 373.5v3.4M303.5 640.5v-3.4M303.5 373.5v3.4M311.5 640.5v-3.4M311.5 373.5v3.4" stroke="#6c6c6c" stroke-width="1.0" fill="none"/>
<path d="M67.5 381.5h4M319.5 381.5h-4M67.5 390.5h4M319.5 390.5h-4M67.5 398.5h4M319.5 398.5h-4M67.5 407.5h4M319.5 407.5h-4M67.5 415.5h8M319.5 415.5h-8M67.5 424.5h4M319.5 424.5h-4M67.5 433.5h4M319.5 433.5h-4M67.5 441.5h4M319.5 441.5h-4M67.5 450.5h4M319.5 450.5h-4M67.5 459.5h8M319.5 459.5h-8M67.5 467.5h4M319.5 467.5h-4M67.5 476.5h4M319.5 476.5h-4M67.5 484.5h4M319.5 484.5h-4M67.5 493.5h4M319.5 493.5h-4M67.5 502.5h8M319.5 502.5h-8M67.5 510.5h4M319.5 510.5h-4M67.5 519.5h4M319.5 519.5h-4M67.5 528.5h4M319.5 528.5h-4M67.5 536.5h4M319.5 536.5h-4M67.5 545.5h8M319.5 545.5h-8M67.5 554.5h4M319.5 554.5h-4M67.5 562.5h4M319.5 562.5h-4M67.5 571.5h4M319.5 571.5h-4M67.5 579.5h4M319.5 579.5h-4M67.5 588.5h8M319.5 588.5h-8M67.5 597.5h4M319.5 597.5h-4M67.5 605.5h4M319.5 605.5h-4M67.5 614.5h4M319.5 614.5h-4M67.5 623.5h4M319.5 623.5h-4M67.5 631.5h8M319.5 631.5h-8" stroke="#6c6c6c" stroke-width="1.0" fill="none"/>
<text x="73.9" y="657.8" font-size="15" text-anchor="middle">0.7</text>
<text x="115.1" y="657.8" font-size="15" text-anchor="middle">0.75</text>
<text x="156.9" y="657.8" font-size="15" text-anchor="middle">0.8</text>
<text x="198.2" y="657.8" font-size="15" text-anchor="middle">0.85</text>
<text x="239.6" y="657.8" font-size="15" text-anchor="middle">0.9</text>
<text x="280.8" y="657.8" font-size="15" text-anchor="middle">0.95</text>
<text x="325" y="657.8" font-size="15" text-anchor="middle">1</text>
<text x="62.5" y="378.8" font-size="15" text-anchor="end">1</text>
<text x="62.5" y="421.83" font-size="15" text-anchor="end">0.95</text>
<text x="62.5" y="464.86" font-size="15" text-anchor="end">0.9</text>
<text x="62.5" y="507.89" font-size="15" text-anchor="end">0.85</text>
<text x="62.5" y="550.92" font-size="15" text-anchor="end">0.8</text>
<text x="62.5" y="593.95" font-size="15" text-anchor="end">0.75</text>
<text x="62.5" y="636.98" font-size="15" text-anchor="end">0.7</text>
<text y="403.3"><tspan x="92.4" font-size="14.5" font-weight="bold" font-style="italic">ATLAS</tspan><tspan x="148.5" font-size="13.85">Simulation</tspan></text>
<text y="430.3" font-size="14.1"><tspan x="91.7">0.80</tspan><tspan x="123.6">≤</tspan><tspan x="135">|</tspan><tspan x="137.35">η</tspan><tspan x="144.8">|</tspan><tspan x="151.8">&lt;</tspan><tspan x="164.7">1.15</tspan></text>
<text x="92.1" y="454.2" font-size="14">60 GeV &lt; E<tspan font-size="10" dy="4.7">T</tspan><tspan dy="-4.7"> &lt; 80 GeV</tspan></text>
<text x="301.4" y="686.7" font-size="19">R<tspan font-size="12.5" dy="-8.5" dx="-0.6">e</tspan><tspan font-size="11" dy="13.9" dx="-6.85">ϕ</tspan></text>
<text transform="translate(20.4 441.1) rotate(-90)" font-size="17">R</text>
<text transform="translate(9.7 429.3) rotate(-90)" font-size="11.5">γ</text>
<text transform="translate(25.7 429.5) rotate(-90)" font-size="11">ϕ</text>
<text transform="translate(20.4 418.8) rotate(-90)" font-size="17">=</text>
<text transform="translate(20.4 406.9) rotate(-90)" font-size="17">S</text>
<text transform="translate(20.4 392.6) rotate(-90)" font-size="17">(</text>
<text transform="translate(20.4 386.9) rotate(-90)" font-size="17">R</text>
<text transform="translate(12.4 375.2) rotate(-90)" font-size="11.5">e</text>
<text transform="translate(29 375.5) rotate(-90)" font-size="11">ϕ</text>
<text transform="translate(20.4 368.3) rotate(-90)" font-size="17">)</text>
</g>
<g id="p4">
<rect x="421.5" y="373.5" width="252" height="267" fill="none" stroke="#505050" stroke-width="1.0"/>
<path d="M423.5 640.5v-6.8M423.5 373.5v6.8M431.5 640.5v-3.4M431.5 373.5v3.4M439.5 640.5v-3.4M439.5 373.5v3.4M448.5 640.5v-3.4M448.5 373.5v3.4M456.5 640.5v-3.4M456.5 373.5v3.4M464.5 640.5v-6.8M464.5 373.5v6.8M472.5 640.5v-3.4M472.5 373.5v3.4M481.5 640.5v-3.4M481.5 373.5v3.4M489.5 640.5v-3.4M489.5 373.5v3.4M497.5 640.5v-3.4M497.5 373.5v3.4M506.5 640.5v-6.8M506.5 373.5v6.8M514.5 640.5v-3.4M514.5 373.5v3.4M522.5 640.5v-3.4M522.5 373.5v3.4M531.5 640.5v-3.4M531.5 373.5v3.4M539.5 640.5v-3.4M539.5 373.5v3.4M547.5 640.5v-6.8M547.5 373.5v6.8M555.5 640.5v-3.4M555.5 373.5v3.4M564.5 640.5v-3.4M564.5 373.5v3.4M572.5 640.5v-3.4M572.5 373.5v3.4M580.5 640.5v-3.4M580.5 373.5v3.4M589.5 640.5v-6.8M589.5 373.5v6.8M597.5 640.5v-3.4M597.5 373.5v3.4M605.5 640.5v-3.4M605.5 373.5v3.4M614.5 640.5v-3.4M614.5 373.5v3.4M622.5 640.5v-3.4M622.5 373.5v3.4M630.5 640.5v-6.8M630.5 373.5v6.8M638.5 640.5v-3.4M638.5 373.5v3.4M647.5 640.5v-3.4M647.5 373.5v3.4M655.5 640.5v-3.4M655.5 373.5v3.4M663.5 640.5v-3.4M663.5 373.5v3.4M672.5 640.5v-6.8M672.5 373.5v6.8" stroke="#6c6c6c" stroke-width="1.0" fill="none"/>
<path d="M421.5 380.5h4M673.5 380.5h-4M421.5 387.5h4M673.5 387.5h-4M421.5 395.5h4M673.5 395.5h-4M421.5 402.5h4M673.5 402.5h-4M421.5 410.5h8M673.5 410.5h-8M421.5 417.5h4M673.5 417.5h-4M421.5 425.5h4M673.5 425.5h-4M421.5 432.5h4M673.5 432.5h-4M421.5 440.5h4M673.5 440.5h-4M421.5 447.5h8M673.5 447.5h-8M421.5 455.5h4M673.5 455.5h-4M421.5 463.5h4M673.5 463.5h-4M421.5 470.5h4M673.5 470.5h-4M421.5 478.5h4M673.5 478.5h-4M421.5 485.5h8M673.5 485.5h-8M421.5 493.5h4M673.5 493.5h-4M421.5 500.5h4M673.5 500.5h-4M421.5 508.5h4M673.5 508.5h-4M421.5 515.5h4M673.5 515.5h-4M421.5 523.5h8M673.5 523.5h-8M421.5 531.5h4M673.5 531.5h-4M421.5 538.5h4M673.5 538.5h-4M421.5 546.5h4M673.5 546.5h-4M421.5 553.5h4M673.5 553.5h-4M421.5 561.5h8M673.5 561.5h-8M421.5 568.5h4M673.5 568.5h-4M421.5 576.5h4M673.5 576.5h-4M421.5 583.5h4M673.5 583.5h-4M421.5 591.5h4M673.5 591.5h-4M421.5 598.5h8M673.5 598.5h-8M421.5 606.5h4M673.5 606.5h-4M421.5 614.5h4M673.5 614.5h-4M421.5 621.5h4M673.5 621.5h-4M421.5 629.5h4M673.5 629.5h-4M421.5 636.5h8M673.5 636.5h-8" stroke="#6c6c6c" stroke-width="1.0" fill="none"/>
<path d="M603.48 586.34V588.84M605.3 583.73V586.3M607.12 582.51V585.11M608.93 574.93V577.71M610.74 573.46V576.27M612.56 564.46V567.47M614.38 562.72V565.76M616.19 551.07V554.34M618 551.68V554.95M619.82 545.81V549.19M621.63 537.44V540.96M623.45 525.73V529.47M625.26 512.73V516.67M627.08 507.48V511.52M628.89 498.31V502.49M630.71 489.25V493.55M632.52 479.48V483.92M634.34 472.93V477.47M636.15 463.16V467.84M637.97 457.93V462.67M639.78 473.63V478.17M641.6 484.71V489.09M643.41 497.41V501.59M645.23 516.36V520.24M647.04 546.12V549.48M648.86 580.27V582.93" stroke="#000" stroke-width="0.9" fill="none"/>
<path d="M420.49 636.7a1.5 1.5 0 1 0 3 0a1.5 1.5 0 1 0 -3 0M422.3 636.71a1.5 1.5 0 1 0 3 0a1.5 1.5 0 1 0 -3 0M424.12 636.69a1.5 1.5 0 1 0 3 0a1.5 1.5 0 1 0 -3 0M425.93 636.7a1.5 1.5 0 1 0 3 0a1.5 1.5 0 1 0 -3 0M427.75 636.71a1.5 1.5 0 1 0 3 0a1.5 1.5 0 1 0 -3 0M429.56 636.72a1.5 1.5 0 1 0 3 0a1.5 1.5 0 1 0 -3 0M431.38 636.69a1.5 1.5 0 1 0 3 0a1.5 1.5 0 1 0 -3 0M433.19 636.71a1.5 1.5 0 1 0 3 0a1.5 1.5 0 1 0 -3 0M435 636.67a1.5 1.5 0 1 0 3 0a1.5 1.5 0 1 0 -3 0M436.82 636.63a1.5 1.5 0 1 0 3 0a1.5 1.5 0 1 0 -3 0M438.63 636.72a1.5 1.5 0 1 0 3 0a1.5 1.5 0 1 0 -3 0M440.45 636.61a1.5 1.5 0 1 0 3 0a1.5 1.5 0 1 0 -3 0M442.26 636.7a1.5 1.5 0 1 0 3 0a1.5 1.5 0 1 0 -3 0M444.08 636.59a1.5 1.5 0 1 0 3 0a1.5 1.5 0 1 0 -3 0M445.89 636.5a1.5 1.5 0 1 0 3 0a1.5 1.5 0 1 0 -3 0M447.71 636.54a1.5 1.5 0 1 0 3 0a1.5 1.5 0 1 0 -3 0M449.52 636.3a1.5 1.5 0 1 0 3 0a1.5 1.5 0 1 0 -3 0M451.34 636.63a1.5 1.5 0 1 0 3 0a1.5 1.5 0 1 0 -3 0M453.15 636.36a1.5 1.5 0 1 0 3 0a1.5 1.5 0 1 0 -3 0M454.97 636.44a1.5 1.5 0 1 0 3 0a1.5 1.5 0 1 0 -3 0M456.78 636.15a1.5 1.5 0 1 0 3 0a1.5 1.5 0 1 0 -3 0M458.6 636.48a1.5 1.5 0 1 0 3 0a1.5 1.5 0 1 0 -3 0M460.41 636.33a1.5 1.5 0 1 0 3 0a1.5 1.5 0 1 0 -3 0M462.23 635.87a1.5 1.5 0 1 0 3 0a1.5 1.5 0 1 0 -3 0M464.04 636.5a1.5 1.5 0 1 0 3 0a1.5 1.5 0 1 0 -3 0M465.86 636.32a1.5 1.5 0 1 0 3 0a1.5 1.5 0 1 0 -3 0M467.67 636.06a1.5 1.5 0 1 0 3 0a1.5 1.5 0 1 0 -3 0M469.49 636.44a1.5 1.5 0 1 0 3 0a1.5 1.5 0 1 0 -3 0M471.3 635.83a1.5 1.5 0 1 0 3 0a1.5 1.5 0 1 0 -3 0M473.12 636.21a1.5 1.5 0 1 0 3 0a1.5 1.5 0 1 0 -3 0M474.93 636.13a1.5 1.5 0 1 0 3 0a1.5 1.5 0 1 0 -3 0M476.75 635.85a1.5 1.5 0 1 0 3 0a1.5 1.5 0 1 0 -3 0M478.56 635.92a1.5 1.5 0 1 0 3 0a1.5 1.5 0 1 0 -3 0M480.38 635.6a1.5 1.5 0 1 0 3 0a1.5 1.5 0 1 0 -3 0M482.19 635.68a1.5 1.5 0 1 0 3 0a1.5 1.5 0 1 0 -3 0M484.01 635.81a1.5 1.5 0 1 0 3 0a1.5 1.5 0 1 0 -3 0M485.82 635.64a1.5 1.5 0 1 0 3 0a1.5 1.5 0 1 0 -3 0M487.64 634.87a1.5 1.5 0 1 0 3 0a1.5 1.5 0 1 0 -3 0M489.45 634.84a1.5 1.5 0 1 0 3 0a1.5 1.5 0 1 0 -3 0M491.27 635.6a1.5 1.5 0 1 0 3 0a1.5 1.5 0 1 0 -3 0M493.08 634.8a1.5 1.5 0 1 0 3 0a1.5 1.5 0 1 0 -3 0M494.9 635.2a1.5 1.5 0 1 0 3 0a1.5 1.5 0 1 0 -3 0M496.71 634.73a1.5 1.5 0 1 0 3 0a1.5 1.5 0 1 0 -3 0M498.53 634.89a1.5 1.5 0 1 0 3 0a1.5 1.5 0 1 0 -3 0M500.34 634.72a1.5 1.5 0 1 0 3 0a1.5 1.5 0 1 0 -3 0M502.16 634.92a1.5 1.5 0 1 0 3 0a1.5 1.5 0 1 0 -3 0M503.97 634.96a1.5 1.5 0 1 0 3 0a1.5 1.5 0 1 0 -3 0M505.79 634.24a1.5 1.5 0 1 0 3 0a1.5 1.5 0 1 0 -3 0M507.6 633.64a1.5 1.5 0 1 0 3 0a1.5 1.5 0 1 0 -3 0M509.42 633.9a1.5 1.5 0 1 0 3 0a1.5 1.5 0 1 0 -3 0M511.23 632.44a1.5 1.5 0 1 0 3 0a1.5 1.5 0 1 0 -3 0M513.05 632.9a1.5 1.5 0 1 0 3 0a1.5 1.5 0 1 0 -3 0M514.87 633.05a1.5 1.5 0 1 0 3 0a1.5 1.5 0 1 0 -3 0M516.68 631.92a1.5 1.5 0 1 0 3 0a1.5 1.5 0 1 0 -3 0M518.5 632.59a1.5 1.5 0 1 0 3 0a1.5 1.5 0 1 0 -3 0M520.31 632.98a1.5 1.5 0 1 0 3 0a1.5 1.5 0 1 0 -3 0M522.12 631.23a1.5 1.5 0 1 0 3 0a1.5 1.5 0 1 0 -3 0M523.94 632.3a1.5 1.5 0 1 0 3 0a1.5 1.5 0 1 0 -3 0M525.75 631.03a1.5 1.5 0 1 0 3 0a1.5 1.5 0 1 0 -3 0M527.57 630.23a1.5 1.5 0 1 0 3 0a1.5 1.5 0 1 0 -3 0M529.38 630.91a1.5 1.5 0 1 0 3 0a1.5 1.5 0 1 0 -3 0M531.2 632.07a1.5 1.5 0 1 0 3 0a1.5 1.5 0 1 0 -3 0M533.01 629.78a1.5 1.5 0 1 0 3 0a1.5 1.5 0 1 0 -3 0M534.83 630.17a1.5 1.5 0 1 0 3 0a1.5 1.5 0 1 0 -3 0M536.64 630.33a1.5 1.5 0 1 0 3 0a1.5 1.5 0 1 0 -3 0M538.46 629.29a1.5 1.5 0 1 0 3 0a1.5 1.5 0 1 0 -3 0M540.27 627.99a1.5 1.5 0 1 0 3 0a1.5 1.5 0 1 0 -3 0M542.09 627.55a1.5 1.5 0 1 0 3 0a1.5 1.5 0 1 0 -3 0M543.9 626.28a1.5 1.5 0 1 0 3 0a1.5 1.5 0 1 0 -3 0M545.72 626.92a1.5 1.5 0 1 0 3 0a1.5 1.5 0 1 0 -3 0M547.53 624.96a1.5 1.5 0 1 0 3 0a1.5 1.5 0 1 0 -3 0M549.35 625.87a1.5 1.5 0 1 0 3 0a1.5 1.5 0 1 0 -3 0M551.16 624.49a1.5 1.5 0 1 0 3 0a1.5 1.5 0 1 0 -3 0M552.98 622.51a1.5 1.5 0 1 0 3 0a1.5 1.5 0 1 0 -3 0M554.79 622.53a1.5 1.5 0 1 0 3 0a1.5 1.5 0 1 0 -3 0M556.61 622.1a1.5 1.5 0 1 0 3 0a1.5 1.5 0 1 0 -3 0M558.42 621.97a1.5 1.5 0 1 0 3 0a1.5 1.5 0 1 0 -3 0M560.24 621.04a1.5 1.5 0 1 0 3 0a1.5 1.5 0 1 0 -3 0M562.05 620.22a1.5 1.5 0 1 0 3 0a1.5 1.5 0 1 0 -3 0M563.87 620.5a1.5 1.5 0 1 0 3 0a1.5 1.5 0 1 0 -3 0M565.68 617.55a1.5 1.5 0 1 0 3 0a1.5 1.5 0 1 0 -3 0M567.5 616.84a1.5 1.5 0 1 0 3 0a1.5 1.5 0 1 0 -3 0M569.31 614.46a1.5 1.5 0 1 0 3 0a1.5 1.5 0 1 0 -3 0M571.13 615.84a1.5 1.5 0 1 0 3 0a1.5 1.5 0 1 0 -3 0M572.94 614.19a1.5 1.5 0 1 0 3 0a1.5 1.5 0 1 0 -3 0M574.76 614.48a1.5 1.5 0 1 0 3 0a1.5 1.5 0 1 0 -3 0M576.57 612.87a1.5 1.5 0 1 0 3 0a1.5 1.5 0 1 0 -3 0M578.39 611.64a1.5 1.5 0 1 0 3 0a1.5 1.5 0 1 0 -3 0M580.2 612.24a1.5 1.5 0 1 0 3 0a1.5 1.5 0 1 0 -3 0M582.02 609.52a1.5 1.5 0 1 0 3 0a1.5 1.5 0 1 0 -3 0M583.84 607.14a1.5 1.5 0 1 0 3 0a1.5 1.5 0 1 0 -3 0M585.65 607.2a1.5 1.5 0 1 0 3 0a1.5 1.5 0 1 0 -3 0M587.46 605.39a1.5 1.5 0 1 0 3 0a1.5 1.5 0 1 0 -3 0M589.28 602.37a1.5 1.5 0 1 0 3 0a1.5 1.5 0 1 0 -3 0M591.1 600.73a1.5 1.5 0 1 0 3 0a1.5 1.5 0 1 0 -3 0M592.91 598.92a1.5 1.5 0 1 0 3 0a1.5 1.5 0 1 0 -3 0M594.72 594.96a1.5 1.5 0 1 0 3 0a1.5 1.5 0 1 0 -3 0M596.54 592.97a1.5 1.5 0 1 0 3 0a1.5 1.5 0 1 0 -3 0M598.36 593.53a1.5 1.5 0 1 0 3 0a1.5 1.5 0 1 0 -3 0M600.17 592.66a1.5 1.5 0 1 0 3 0a1.5 1.5 0 1 0 -3 0M601.98 587.59a1.5 1.5 0 1 0 3 0a1.5 1.5 0 1 0 -3 0M603.8 585.02a1.5 1.5 0 1 0 3 0a1.5 1.5 0 1 0 -3 0M605.62 583.81a1.5 1.5 0 1 0 3 0a1.5 1.5 0 1 0 -3 0M607.43 576.32a1.5 1.5 0 1 0 3 0a1.5 1.5 0 1 0 -3 0M609.24 574.87a1.5 1.5 0 1 0 3 0a1.5 1.5 0 1 0 -3 0M611.06 565.97a1.5 1.5 0 1 0 3 0a1.5 1.5 0 1 0 -3 0M612.88 564.24a1.5 1.5 0 1 0 3 0a1.5 1.5 0 1 0 -3 0M614.69 552.7a1.5 1.5 0 1 0 3 0a1.5 1.5 0 1 0 -3 0M616.5 553.32a1.5 1.5 0 1 0 3 0a1.5 1.5 0 1 0 -3 0M618.32 547.5a1.5 1.5 0 1 0 3 0a1.5 1.5 0 1 0 -3 0M620.13 539.2a1.5 1.5 0 1 0 3 0a1.5 1.5 0 1 0 -3 0M621.95 527.6a1.5 1.5 0 1 0 3 0a1.5 1.5 0 1 0 -3 0M623.76 514.7a1.5 1.5 0 1 0 3 0a1.5 1.5 0 1 0 -3 0M625.58 509.5a1.5 1.5 0 1 0 3 0a1.5 1.5 0 1 0 -3 0M627.39 500.4a1.5 1.5 0 1 0 3 0a1.5 1.5 0 1 0 -3 0M629.21 491.4a1.5 1.5 0 1 0 3 0a1.5 1.5 0 1 0 -3 0M631.02 481.7a1.5 1.5 0 1 0 3 0a1.5 1.5 0 1 0 -3 0M632.84 475.2a1.5 1.5 0 1 0 3 0a1.5 1.5 0 1 0 -3 0M634.65 465.5a1.5 1.5 0 1 0 3 0a1.5 1.5 0 1 0 -3 0M636.47 460.3a1.5 1.5 0 1 0 3 0a1.5 1.5 0 1 0 -3 0M638.28 475.9a1.5 1.5 0 1 0 3 0a1.5 1.5 0 1 0 -3 0M640.1 486.9a1.5 1.5 0 1 0 3 0a1.5 1.5 0 1 0 -3 0M641.91 499.5a1.5 1.5 0 1 0 3 0a1.5 1.5 0 1 0 -3 0M643.73 518.3a1.5 1.5 0 1 0 3 0a1.5 1.5 0 1 0 -3 0M645.54 547.8a1.5 1.5 0 1 0 3 0a1.5 1.5 0 1 0 -3 0M647.36 581.6a1.5 1.5 0 1 0 3 0a1.5 1.5 0 1 0 -3 0M649.17 602.1a1.5 1.5 0 1 0 3 0a1.5 1.5 0 1 0 -3 0M650.99 616.6a1.5 1.5 0 1 0 3 0a1.5 1.5 0 1 0 -3 0M652.8 625.7a1.5 1.5 0 1 0 3 0a1.5 1.5 0 1 0 -3 0M654.62 632.3a1.5 1.5 0 1 0 3 0a1.5 1.5 0 1 0 -3 0M656.43 634.7a1.5 1.5 0 1 0 3 0a1.5 1.5 0 1 0 -3 0M658.25 635.4a1.5 1.5 0 1 0 3 0a1.5 1.5 0 1 0 -3 0M660.06 636.28a1.5 1.5 0 1 0 3 0a1.5 1.5 0 1 0 -3 0M661.88 636.47a1.5 1.5 0 1 0 3 0a1.5 1.5 0 1 0 -3 0M663.69 636.63a1.5 1.5 0 1 0 3 0a1.5 1.5 0 1 0 -3 0" fill="#000"/>
<path d="M603.48 586.76V589.26M605.3 583.53V586.1M607.12 579.46V582.13M608.93 577.03V579.76M610.74 573.49V576.3M612.56 565.78V568.76M614.38 560.54V563.63M616.19 553.56V556.79M618 550.52V553.81M619.82 545.59V548.97M621.63 536.12V539.68M623.45 526.34V530.06M625.26 518.57V522.43M627.08 508.09V512.11M628.89 503.55V507.65M630.71 488.94V493.26M632.52 481.19V485.61M634.34 469V473.6M636.15 464.27V468.93M637.97 464.27V468.93M639.78 467.09V471.71M641.6 482.7V487.1M643.41 500.73V504.87M645.23 521.8V525.6M647.04 547.73V551.07M648.86 581.89V584.51" stroke="#00f" stroke-width="0.9" fill="none"/>
<path d="M420.24 637.95L421.99 634.85L423.74 637.95ZM422.05 637.95L423.8 634.85L425.55 637.95ZM423.87 637.95L425.62 634.85L427.37 637.95ZM425.68 637.94L427.43 634.84L429.18 637.94ZM427.5 637.95L429.25 634.85L431 637.95ZM429.31 637.93L431.06 634.83L432.81 637.93ZM431.12 637.92L432.88 634.82L434.62 637.92ZM432.94 637.96L434.69 634.86L436.44 637.96ZM434.75 637.87L436.5 634.77L438.25 637.87ZM436.57 637.86L438.32 634.76L440.07 637.86ZM438.38 637.89L440.13 634.79L441.88 637.89ZM440.2 637.86L441.95 634.76L443.7 637.86ZM442.01 637.81L443.76 634.71L445.51 637.81ZM443.83 637.83L445.58 634.73L447.33 637.83ZM445.64 637.81L447.39 634.71L449.14 637.81ZM447.46 637.86L449.21 634.76L450.96 637.86ZM449.27 637.72L451.02 634.62L452.77 637.72ZM451.09 637.72L452.84 634.62L454.59 637.72ZM452.9 637.69L454.65 634.59L456.4 637.69ZM454.72 637.79L456.47 634.69L458.22 637.79ZM456.53 637.54L458.28 634.44L460.03 637.54ZM458.35 637.62L460.1 634.52L461.85 637.62ZM460.16 637.63L461.91 634.53L463.66 637.63ZM461.98 637.41L463.73 634.31L465.48 637.41ZM463.79 637.54L465.54 634.44L467.29 637.54ZM465.61 637.63L467.36 634.53L469.11 637.63ZM467.42 637.48L469.17 634.38L470.92 637.48ZM469.24 637.61L470.99 634.51L472.74 637.61ZM471.05 637.19L472.8 634.09L474.55 637.19ZM472.87 637.27L474.62 634.17L476.37 637.27ZM474.68 637.24L476.43 634.14L478.18 637.24ZM476.5 636.93L478.25 633.83L480 636.93ZM478.31 637.2L480.06 634.1L481.81 637.2ZM480.13 636.83L481.88 633.73L483.63 636.83ZM481.94 637.12L483.69 634.02L485.44 637.12ZM483.76 636.85L485.51 633.75L487.26 636.85ZM485.57 636.86L487.32 633.76L489.07 636.86ZM487.39 636.37L489.14 633.27L490.89 636.37ZM489.2 636.25L490.95 633.15L492.7 636.25ZM491.02 636.51L492.77 633.41L494.52 636.51ZM492.83 636.23L494.58 633.13L496.33 636.23ZM494.65 636.32L496.4 633.22L498.15 636.32ZM496.46 636.09L498.21 632.99L499.96 636.09ZM498.28 636.23L500.03 633.13L501.78 636.23ZM500.09 636.3L501.84 633.2L503.59 636.3ZM501.91 636.2L503.66 633.1L505.41 636.2ZM503.72 635.6L505.47 632.5L507.22 635.6ZM505.54 634.99L507.29 631.89L509.04 634.99ZM507.35 635.15L509.1 632.05L510.85 635.15ZM509.17 635.05L510.92 631.95L512.67 635.05ZM510.98 634.16L512.73 631.06L514.48 634.16ZM512.8 634.26L514.55 631.16L516.3 634.26ZM514.62 633.98L516.37 630.88L518.12 633.98ZM516.43 633.64L518.18 630.54L519.93 633.64ZM518.25 633.48L520 630.38L521.75 633.48ZM520.06 633.29L521.81 630.19L523.56 633.29ZM521.88 633.41L523.62 630.31L525.38 633.41ZM523.69 632.62L525.44 629.52L527.19 632.62ZM525.5 632.59L527.25 629.49L529 632.59ZM527.32 631.97L529.07 628.87L530.82 631.97ZM529.13 632.23L530.88 629.13L532.63 632.23ZM530.95 632.48L532.7 629.38L534.45 632.48ZM532.76 631.58L534.51 628.48L536.26 631.58ZM534.58 630.59L536.33 627.49L538.08 630.59ZM536.39 630.82L538.14 627.72L539.89 630.82ZM538.21 630.33L539.96 627.23L541.71 630.33ZM540.02 629.72L541.77 626.62L543.52 629.72ZM541.84 628.99L543.59 625.89L545.34 628.99ZM543.65 628.07L545.4 624.97L547.15 628.07ZM545.47 627.87L547.22 624.77L548.97 627.87ZM547.28 626.09L549.03 622.99L550.78 626.09ZM549.1 626.3L550.85 623.2L552.6 626.3ZM550.91 625.5L552.66 622.4L554.41 625.5ZM552.73 624.22L554.48 621.12L556.23 624.22ZM554.54 623.54L556.29 620.44L558.04 623.54ZM556.36 623.73L558.11 620.63L559.86 623.73ZM558.17 622.75L559.92 619.65L561.67 622.75ZM559.99 621.79L561.74 618.69L563.49 621.79ZM561.8 621.51L563.55 618.41L565.3 621.51ZM563.62 621.58L565.37 618.48L567.12 621.58ZM565.43 619.34L567.18 616.24L568.93 619.34ZM567.25 618.26L569 615.16L570.75 618.26ZM569.06 617.38L570.81 614.28L572.56 617.38ZM570.88 616.88L572.63 613.78L574.38 616.88ZM572.69 615.21L574.44 612.11L576.19 615.21ZM574.51 614.67L576.26 611.57L578.01 614.67ZM576.32 614.15L578.07 611.05L579.82 614.15ZM578.14 613.6L579.89 610.5L581.64 613.6ZM579.95 612.7L581.7 609.6L583.45 612.7ZM581.77 610.71L583.52 607.61L585.27 610.71ZM583.59 609.21L585.34 606.11L587.09 609.21ZM585.4 608.31L587.15 605.21L588.9 608.31ZM587.21 606.02L588.96 602.92L590.71 606.02ZM589.03 604.81L590.78 601.71L592.53 604.81ZM590.85 602.11L592.6 599.01L594.35 602.11ZM592.66 600.68L594.41 597.58L596.16 600.68ZM594.47 597.79L596.22 594.69L597.97 597.79ZM596.29 595.8L598.04 592.7L599.79 595.8ZM598.11 594.29L599.86 591.19L601.61 594.29ZM599.92 593.17L601.67 590.07L603.42 593.17ZM601.73 589.26L603.48 586.16L605.23 589.26ZM603.55 586.07L605.3 582.97L607.05 586.07ZM605.37 582.05L607.12 578.95L608.87 582.05ZM607.18 579.64L608.93 576.54L610.68 579.64ZM608.99 576.15L610.74 573.05L612.49 576.15ZM610.81 568.52L612.56 565.42L614.31 568.52ZM612.62 563.34L614.38 560.24L616.12 563.34ZM614.44 556.42L616.19 553.32L617.94 556.42ZM616.25 553.42L618 550.32L619.75 553.42ZM618.07 548.53L619.82 545.43L621.57 548.53ZM619.88 539.15L621.63 536.05L623.38 539.15ZM621.7 529.45L623.45 526.35L625.2 529.45ZM623.51 521.75L625.26 518.65L627.01 521.75ZM625.33 511.35L627.08 508.25L628.83 511.35ZM627.14 506.85L628.89 503.75L630.64 506.85ZM628.96 492.35L630.71 489.25L632.46 492.35ZM630.77 484.65L632.52 481.55L634.27 484.65ZM632.59 472.55L634.34 469.45L636.09 472.55ZM634.4 467.85L636.15 464.75L637.9 467.85ZM636.22 467.85L637.97 464.75L639.72 467.85ZM638.03 470.65L639.78 467.55L641.53 470.65ZM639.85 486.15L641.6 483.05L643.35 486.15ZM641.66 504.05L643.41 500.95L645.16 504.05ZM643.48 524.95L645.23 521.85L646.98 524.95ZM645.29 550.65L647.04 547.55L648.79 550.65ZM647.11 584.45L648.86 581.35L650.61 584.45ZM648.92 604.95L650.67 601.85L652.42 604.95ZM650.74 619.45L652.49 616.35L654.24 619.45ZM652.55 628.55L654.3 625.45L656.05 628.55ZM654.37 635.15L656.12 632.05L657.87 635.15ZM656.18 637.55L657.93 634.45L659.68 637.55ZM658 638.25L659.75 635.15L661.5 638.25ZM659.81 637.68L661.56 634.58L663.31 637.68ZM661.63 637.77L663.38 634.67L665.13 637.77ZM663.44 637.83L665.19 634.73L666.94 637.83Z" fill="none" stroke="#f00" stroke-width="0.78" stroke-linejoin="miter"/>
<text x="431.3" y="657.8" font-size="15" text-anchor="middle">0.7</text>
<text x="472.8" y="657.8" font-size="15" text-anchor="middle">0.75</text>
<text x="514.3" y="657.8" font-size="15" text-anchor="middle">0.8</text>
<text x="555.8" y="657.8" font-size="15" text-anchor="middle">0.85</text>
<text x="597.3" y="657.8" font-size="15" text-anchor="middle">0.9</text>
<text x="638.8" y="657.8" font-size="15" text-anchor="middle">0.95</text>
<text x="681.3" y="657.8" font-size="15" text-anchor="middle">1</text>
<text x="416.3" y="641.2" font-size="15" text-anchor="end">0</text>
<text x="416.3" y="603.6" font-size="15" text-anchor="end">0.01</text>
<text x="416.3" y="566" font-size="15" text-anchor="end">0.02</text>
<text x="416.3" y="528.4" font-size="15" text-anchor="end">0.03</text>
<text x="416.3" y="490.8" font-size="15" text-anchor="end">0.04</text>
<text x="416.3" y="453.2" font-size="15" text-anchor="end">0.05</text>
<text x="416.3" y="415.6" font-size="15" text-anchor="end">0.06</text>
<text x="416.3" y="378" font-size="15" text-anchor="end">0.07</text>
<text y="403.3"><tspan x="446.4" font-size="14.5" font-weight="bold" font-style="italic">ATLAS</tspan><tspan x="502.5" font-size="13.85">Simulation</tspan></text>
<text y="430.3" font-size="14.1"><tspan x="445.7">0.80</tspan><tspan x="477.6">≤</tspan><tspan x="489">|</tspan><tspan x="491.35">η</tspan><tspan x="498.8">|</tspan><tspan x="505.8">&lt;</tspan><tspan x="518.7">1.15</tspan></text>
<text x="446.1" y="454.2" font-size="14">60 GeV &lt; E<tspan font-size="10" dy="4.7">T</tspan><tspan dy="-4.7"> &lt; 80 GeV</tspan></text>
<circle cx="448.4" cy="487.3" r="2.15" fill="#000"/>
<text x="468" y="492.6" font-size="14">transformed electron</text>
<path d="M446.1 514.5L448.4 509.9L450.7 514.5Z" fill="none" stroke="#f00" stroke-width="0.75"/>
<text x="468" y="517.8" font-size="14">converted photon</text>
<text x="655.85" y="685.5" font-size="19">R<tspan font-size="11" dy="5.4" dx="-0.8">ϕ</tspan></text>
<text transform="translate(372 375.2) rotate(-90)" font-size="17">)</text>
<text transform="translate(380.84 381.6) rotate(-90)" font-size="11">ϕ</text>
<text transform="translate(372 393.5) rotate(-90)" font-size="17">R</text>
<text transform="translate(372 399.2) rotate(-90)" font-size="17">(</text>
<text transform="translate(372 410) rotate(-90)" font-size="17">P</text>
</g>
</svg>
</body></html>
